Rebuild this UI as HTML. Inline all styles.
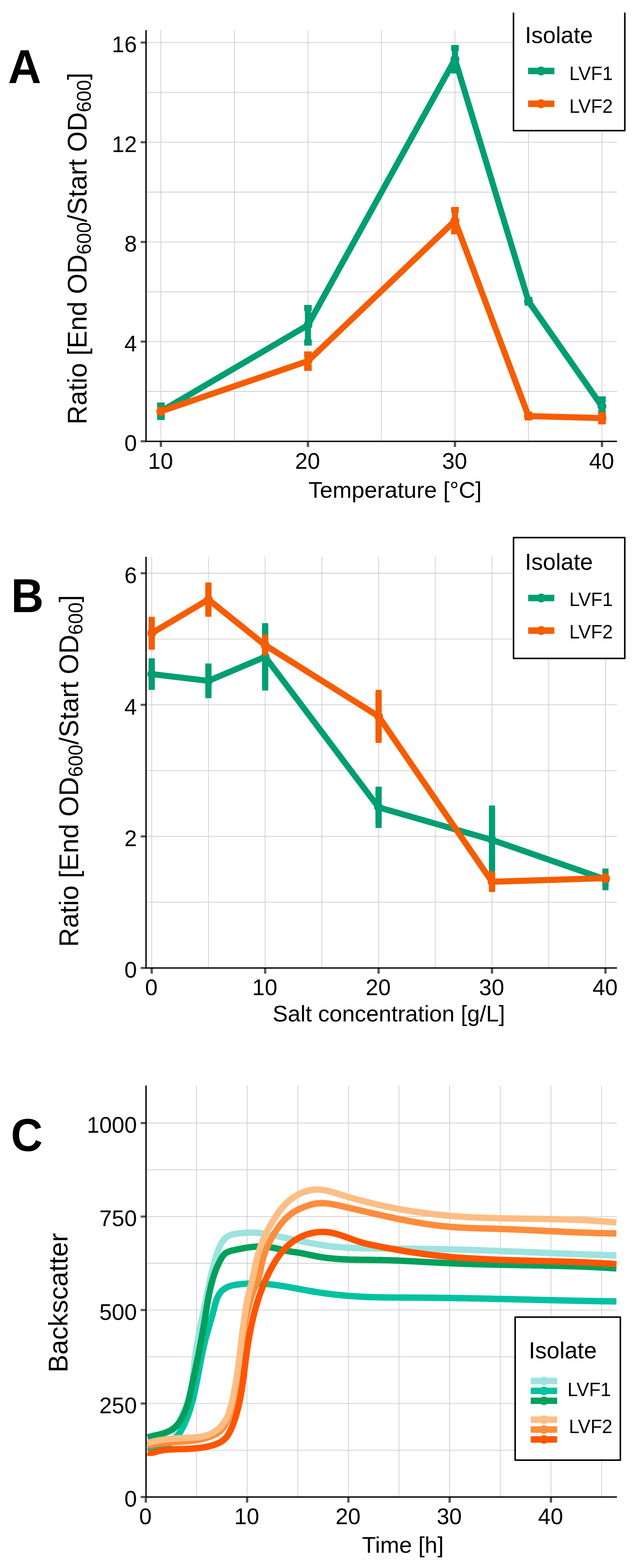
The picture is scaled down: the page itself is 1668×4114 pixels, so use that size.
<!DOCTYPE html>
<html><head><meta charset="utf-8"><title>Figure</title>
<style>html,body{margin:0;padding:0;background:#fff}svg{display:block}</style></head>
<body>
<svg width="1668" height="4114" viewBox="0 0 1668 4114" font-family="'Liberation Sans', Arial, sans-serif" fill="#000">
<rect width="1668" height="4114" fill="#fff"/>
<line x1="422" y1="79" x2="422" y2="1156.2" stroke="#CCCCCC" stroke-width="1.8"/>
<line x1="614.8" y1="79" x2="614.8" y2="1156.2" stroke="#CCCCCC" stroke-width="1.8"/>
<line x1="807.6" y1="79" x2="807.6" y2="1156.2" stroke="#CCCCCC" stroke-width="1.8"/>
<line x1="1000.4" y1="79" x2="1000.4" y2="1156.2" stroke="#CCCCCC" stroke-width="1.8"/>
<line x1="1193.2" y1="79" x2="1193.2" y2="1156.2" stroke="#CCCCCC" stroke-width="1.8"/>
<line x1="1386" y1="79" x2="1386" y2="1156.2" stroke="#CCCCCC" stroke-width="1.8"/>
<line x1="1578.8" y1="79" x2="1578.8" y2="1156.2" stroke="#CCCCCC" stroke-width="1.8"/>
<line x1="384.8" y1="1027" x2="1618" y2="1027" stroke="#CCCCCC" stroke-width="1.8"/>
<line x1="384.8" y1="896.3" x2="1618" y2="896.3" stroke="#CCCCCC" stroke-width="1.8"/>
<line x1="384.8" y1="765.5" x2="1618" y2="765.5" stroke="#CCCCCC" stroke-width="1.8"/>
<line x1="384.8" y1="634.8" x2="1618" y2="634.8" stroke="#CCCCCC" stroke-width="1.8"/>
<line x1="384.8" y1="504" x2="1618" y2="504" stroke="#CCCCCC" stroke-width="1.8"/>
<line x1="384.8" y1="373.2" x2="1618" y2="373.2" stroke="#CCCCCC" stroke-width="1.8"/>
<line x1="384.8" y1="242.5" x2="1618" y2="242.5" stroke="#CCCCCC" stroke-width="1.8"/>
<line x1="384.8" y1="111.7" x2="1618" y2="111.7" stroke="#CCCCCC" stroke-width="1.8"/>
<path d="M412 1064 H432 M422 1064 V1094 M412 1094 H432" fill="none" stroke="#009E73" stroke-width="16" stroke-linecap="butt"/>
<path d="M797.6 808 H817.6 M807.6 808 V898.8 M797.6 898.8 H817.6" fill="none" stroke="#009E73" stroke-width="16" stroke-linecap="butt"/>
<path d="M1183.2 126 H1203.2 M1193.2 126 V185 M1183.2 185 H1203.2" fill="none" stroke="#009E73" stroke-width="16" stroke-linecap="butt"/>
<path d="M1376 787 H1396 M1386 787 V794 M1376 794 H1396" fill="none" stroke="#009E73" stroke-width="16" stroke-linecap="butt"/>
<path d="M1568.8 1048 H1588.8 M1578.8 1048 V1084 M1568.8 1084 H1588.8" fill="none" stroke="#009E73" stroke-width="16" stroke-linecap="butt"/>
<polyline points="422,1079.3 807.6,853.1 1193.2,155.5 1386,790.4 1578.8,1066.3" fill="none" stroke="#009E73" stroke-width="16" stroke-linejoin="round" stroke-linecap="butt"/>
<circle cx="422" cy="1079.3" r="11.7" fill="#009E73"/>
<circle cx="807.6" cy="853.1" r="11.7" fill="#009E73"/>
<circle cx="1193.2" cy="155.5" r="11.7" fill="#009E73"/>
<circle cx="1386" cy="790.4" r="11.7" fill="#009E73"/>
<circle cx="1578.8" cy="1066.3" r="11.7" fill="#009E73"/>
<path d="M412 1075 H432 M422 1075 V1081 M412 1081 H432" fill="none" stroke="#F55D00" stroke-width="16" stroke-linecap="butt"/>
<path d="M797.6 930 H817.6 M807.6 930 V964.9 M797.6 964.9 H817.6" fill="none" stroke="#F55D00" stroke-width="16" stroke-linecap="butt"/>
<path d="M1183.2 551 H1203.2 M1193.2 551 V607 M1183.2 607 H1203.2" fill="none" stroke="#F55D00" stroke-width="16" stroke-linecap="butt"/>
<path d="M1376 1088 H1396 M1386 1088 V1095 M1376 1095 H1396" fill="none" stroke="#F55D00" stroke-width="16" stroke-linecap="butt"/>
<path d="M1568.8 1089 H1588.8 M1578.8 1089 V1105.4 M1568.8 1105.4 H1588.8" fill="none" stroke="#F55D00" stroke-width="16" stroke-linecap="butt"/>
<polyline points="422,1079.3 807.6,947.3 1193.2,579.2 1386,1091.8 1578.8,1097" fill="none" stroke="#F55D00" stroke-width="16" stroke-linejoin="round" stroke-linecap="butt"/>
<circle cx="422" cy="1079.3" r="11.7" fill="#F55D00"/>
<circle cx="807.6" cy="947.3" r="11.7" fill="#F55D00"/>
<circle cx="1193.2" cy="579.2" r="11.7" fill="#F55D00"/>
<circle cx="1386" cy="1091.8" r="11.7" fill="#F55D00"/>
<circle cx="1578.8" cy="1097" r="11.7" fill="#F55D00"/>
<line x1="369" y1="1157.8" x2="383" y2="1157.8" stroke="#575757" stroke-width="5.5"/>
<line x1="369" y1="896.3" x2="383" y2="896.3" stroke="#575757" stroke-width="5.5"/>
<line x1="369" y1="634.8" x2="383" y2="634.8" stroke="#575757" stroke-width="5.5"/>
<line x1="369" y1="373.2" x2="383" y2="373.2" stroke="#575757" stroke-width="5.5"/>
<line x1="369" y1="111.7" x2="383" y2="111.7" stroke="#575757" stroke-width="5.5"/>
<line x1="422" y1="1158" x2="422" y2="1172.8" stroke="#575757" stroke-width="6"/>
<line x1="807.6" y1="1158" x2="807.6" y2="1172.8" stroke="#575757" stroke-width="6"/>
<line x1="1193.2" y1="1158" x2="1193.2" y2="1172.8" stroke="#575757" stroke-width="6"/>
<line x1="1578.8" y1="1158" x2="1578.8" y2="1172.8" stroke="#575757" stroke-width="6"/>
<path d="M383 79 V1158 H1618" fill="none" stroke="#000" stroke-width="3.6" stroke-linejoin="miter" stroke-linecap="butt"/>
<text x="359" y="1183.3" font-size="59" text-anchor="end" font-weight="normal" >0</text>
<text x="359" y="921.8" font-size="59" text-anchor="end" font-weight="normal" >4</text>
<text x="359" y="660.3" font-size="59" text-anchor="end" font-weight="normal" >8</text>
<text x="359" y="398.7" font-size="59" text-anchor="end" font-weight="normal" >12</text>
<text x="359" y="137.2" font-size="59" text-anchor="end" font-weight="normal" >16</text>
<text x="421" y="1229.5" font-size="59" text-anchor="middle" font-weight="normal" >10</text>
<text x="806.6" y="1229.5" font-size="59" text-anchor="middle" font-weight="normal" >20</text>
<text x="1192.2" y="1229.5" font-size="59" text-anchor="middle" font-weight="normal" >30</text>
<text x="1577.8" y="1229.5" font-size="59" text-anchor="middle" font-weight="normal" >40</text>
<text x="809" y="1305.5" font-size="60" text-anchor="start" font-weight="normal" >Temperature [°C]</text>
<text transform="translate(227,1113.8) rotate(-90) scale(0.9885,1)" x="0" y="0" font-size="70">Ratio [End OD<tspan font-size="51.5" dy="11.2">600</tspan><tspan dy="-11.2">/Start OD</tspan><tspan font-size="51.5" dy="11.2">600</tspan><tspan dy="-11.2">]</tspan></text>
<text transform="translate(21,217.8) scale(0.973,1)" font-size="124" font-weight="bold">A</text>
<rect x="1346.7" y="0" width="292" height="342.7" fill="#fff"/>
<path d="M1346.7 33 V342.7 H1638.7 V33" fill="none" stroke="#000" stroke-width="4" stroke-linejoin="round"/>
<text x="1376.7" y="113.3" font-size="60.5" text-anchor="start" font-weight="normal" >Isolate</text>
<line x1="1385" y1="186.3" x2="1454" y2="186.3" stroke="#009E73" stroke-width="17"/>
<circle cx="1419" cy="186.3" r="11.7" fill="#009E73"/>
<text x="1493" y="209.5" font-size="49.3" text-anchor="start" font-weight="normal" >LVF1</text>
<line x1="1385" y1="272.3" x2="1454" y2="272.3" stroke="#F55D00" stroke-width="17"/>
<circle cx="1419" cy="272.3" r="11.7" fill="#F55D00"/>
<text x="1493" y="295.5" font-size="49.3" text-anchor="start" font-weight="normal" >LVF2</text>
<line x1="397.9" y1="1461" x2="397.9" y2="2537.9" stroke="#CCCCCC" stroke-width="1.8"/>
<line x1="546.6" y1="1461" x2="546.6" y2="2537.9" stroke="#CCCCCC" stroke-width="1.8"/>
<line x1="695.4" y1="1461" x2="695.4" y2="2537.9" stroke="#CCCCCC" stroke-width="1.8"/>
<line x1="844.1" y1="1461" x2="844.1" y2="2537.9" stroke="#CCCCCC" stroke-width="1.8"/>
<line x1="992.9" y1="1461" x2="992.9" y2="2537.9" stroke="#CCCCCC" stroke-width="1.8"/>
<line x1="1141.7" y1="1461" x2="1141.7" y2="2537.9" stroke="#CCCCCC" stroke-width="1.8"/>
<line x1="1290.4" y1="1461" x2="1290.4" y2="2537.9" stroke="#CCCCCC" stroke-width="1.8"/>
<line x1="1439.2" y1="1461" x2="1439.2" y2="2537.9" stroke="#CCCCCC" stroke-width="1.8"/>
<line x1="1587.9" y1="1461" x2="1587.9" y2="2537.9" stroke="#CCCCCC" stroke-width="1.8"/>
<line x1="384.8" y1="2367.1" x2="1618" y2="2367.1" stroke="#CCCCCC" stroke-width="1.8"/>
<line x1="384.8" y1="2194.5" x2="1618" y2="2194.5" stroke="#CCCCCC" stroke-width="1.8"/>
<line x1="384.8" y1="2021.8" x2="1618" y2="2021.8" stroke="#CCCCCC" stroke-width="1.8"/>
<line x1="384.8" y1="1849.2" x2="1618" y2="1849.2" stroke="#CCCCCC" stroke-width="1.8"/>
<line x1="384.8" y1="1676.6" x2="1618" y2="1676.6" stroke="#CCCCCC" stroke-width="1.8"/>
<line x1="384.8" y1="1504" x2="1618" y2="1504" stroke="#CCCCCC" stroke-width="1.8"/>
<path d="M389.9 1735.2 H405.9 M397.9 1735.2 V1802 M389.9 1802 H405.9" fill="none" stroke="#009E73" stroke-width="16.5" stroke-linecap="butt"/>
<path d="M538.6 1749 H554.6 M546.6 1749 V1823.8 M538.6 1823.8 H554.6" fill="none" stroke="#009E73" stroke-width="16.5" stroke-linecap="butt"/>
<path d="M687.4 1643.3 H703.4 M695.4 1643.3 V1803.5 M687.4 1803.5 H703.4" fill="none" stroke="#009E73" stroke-width="16.5" stroke-linecap="butt"/>
<path d="M984.9 2072.3 H1000.9 M992.9 2072.3 V2164.3 M984.9 2164.3 H1000.9" fill="none" stroke="#009E73" stroke-width="16.5" stroke-linecap="butt"/>
<path d="M1282.4 2121.8 H1298.4 M1290.4 2121.8 V2285.6 M1282.4 2285.6 H1298.4" fill="none" stroke="#009E73" stroke-width="16.5" stroke-linecap="butt"/>
<path d="M1579.9 2287.1 H1595.9 M1587.9 2287.1 V2327.5 M1579.9 2327.5 H1595.9" fill="none" stroke="#009E73" stroke-width="16.5" stroke-linecap="butt"/>
<polyline points="397.9,1768.6 546.6,1786.4 695.4,1723.4 992.9,2118.3 1290.4,2203.8 1587.9,2307.4" fill="none" stroke="#009E73" stroke-width="16" stroke-linejoin="round" stroke-linecap="butt"/>
<circle cx="397.9" cy="1768.6" r="11.7" fill="#009E73"/>
<circle cx="546.6" cy="1786.4" r="11.7" fill="#009E73"/>
<circle cx="695.4" cy="1723.4" r="11.7" fill="#009E73"/>
<circle cx="992.9" cy="2118.3" r="11.7" fill="#009E73"/>
<circle cx="1290.4" cy="2203.8" r="11.7" fill="#009E73"/>
<circle cx="1587.9" cy="2307.4" r="11.7" fill="#009E73"/>
<path d="M389.9 1626.4 H405.9 M397.9 1626.4 V1696.6 M389.9 1696.6 H405.9" fill="none" stroke="#F55D00" stroke-width="16.5" stroke-linecap="butt"/>
<path d="M538.6 1536.4 H554.6 M546.6 1536.4 V1610 M538.6 1610 H554.6" fill="none" stroke="#F55D00" stroke-width="16.5" stroke-linecap="butt"/>
<path d="M687.4 1673.2 H703.4 M695.4 1673.2 V1712 M687.4 1712 H703.4" fill="none" stroke="#F55D00" stroke-width="16.5" stroke-linecap="butt"/>
<path d="M984.9 1818.2 H1000.9 M992.9 1818.2 V1941 M984.9 1941 H1000.9" fill="none" stroke="#F55D00" stroke-width="16.5" stroke-linecap="butt"/>
<path d="M1282.4 2294.7 H1298.4 M1290.4 2294.7 V2332.3 M1282.4 2332.3 H1298.4" fill="none" stroke="#F55D00" stroke-width="16.5" stroke-linecap="butt"/>
<path d="M1579.9 2299 H1595.9 M1587.9 2299 V2308.6 M1579.9 2308.6 H1595.9" fill="none" stroke="#F55D00" stroke-width="16.5" stroke-linecap="butt"/>
<polyline points="397.9,1661.4 546.6,1573 695.4,1692.7 992.9,1879.6 1290.4,2313.6 1587.9,2303.9" fill="none" stroke="#F55D00" stroke-width="16" stroke-linejoin="round" stroke-linecap="butt"/>
<circle cx="397.9" cy="1661.4" r="11.7" fill="#F55D00"/>
<circle cx="546.6" cy="1573" r="11.7" fill="#F55D00"/>
<circle cx="695.4" cy="1692.7" r="11.7" fill="#F55D00"/>
<circle cx="992.9" cy="1879.6" r="11.7" fill="#F55D00"/>
<circle cx="1290.4" cy="2313.6" r="11.7" fill="#F55D00"/>
<circle cx="1587.9" cy="2303.9" r="11.7" fill="#F55D00"/>
<line x1="369" y1="2539.7" x2="383" y2="2539.7" stroke="#575757" stroke-width="5.5"/>
<line x1="369" y1="2194.5" x2="383" y2="2194.5" stroke="#575757" stroke-width="5.5"/>
<line x1="369" y1="1849.2" x2="383" y2="1849.2" stroke="#575757" stroke-width="5.5"/>
<line x1="369" y1="1504" x2="383" y2="1504" stroke="#575757" stroke-width="5.5"/>
<line x1="397.9" y1="2539.7" x2="397.9" y2="2554.5" stroke="#575757" stroke-width="6"/>
<line x1="695.4" y1="2539.7" x2="695.4" y2="2554.5" stroke="#575757" stroke-width="6"/>
<line x1="992.9" y1="2539.7" x2="992.9" y2="2554.5" stroke="#575757" stroke-width="6"/>
<line x1="1290.4" y1="2539.7" x2="1290.4" y2="2554.5" stroke="#575757" stroke-width="6"/>
<line x1="1587.9" y1="2539.7" x2="1587.9" y2="2554.5" stroke="#575757" stroke-width="6"/>
<path d="M383 1461 V2539.7 H1618" fill="none" stroke="#000" stroke-width="3.6" stroke-linejoin="miter" stroke-linecap="butt"/>
<text x="359" y="2565.2" font-size="59" text-anchor="end" font-weight="normal" >0</text>
<text x="359" y="2220" font-size="59" text-anchor="end" font-weight="normal" >2</text>
<text x="359" y="1874.7" font-size="59" text-anchor="end" font-weight="normal" >4</text>
<text x="359" y="1529.5" font-size="59" text-anchor="end" font-weight="normal" >6</text>
<text x="396.9" y="2611.2" font-size="59" text-anchor="middle" font-weight="normal" >0</text>
<text x="694.4" y="2611.2" font-size="59" text-anchor="middle" font-weight="normal" >10</text>
<text x="991.9" y="2611.2" font-size="59" text-anchor="middle" font-weight="normal" >20</text>
<text x="1289.4" y="2611.2" font-size="59" text-anchor="middle" font-weight="normal" >30</text>
<text x="1586.9" y="2611.2" font-size="59" text-anchor="middle" font-weight="normal" >40</text>
<text x="715" y="2680" font-size="59.6" text-anchor="start" font-weight="normal" >Salt concentration [g/L]</text>
<text transform="translate(205,2484.6) rotate(-90) scale(0.9885,1)" x="0" y="0" font-size="70">Ratio [End OD<tspan font-size="51.5" dy="11.2">600</tspan><tspan dy="-11.2">/Start OD</tspan><tspan font-size="51.5" dy="11.2">600</tspan><tspan dy="-11.2">]</tspan></text>
<text transform="translate(29,1605.9) scale(0.955,1)" font-size="124" font-weight="bold">B</text>
<rect x="1346.8" y="1410.5" width="291.8" height="317" fill="#fff" stroke="#000" stroke-width="4" stroke-linejoin="round"/>
<text x="1376.7" y="1495.1" font-size="60.5" text-anchor="start" font-weight="normal" >Isolate</text>
<line x1="1385.2" y1="1569" x2="1453.8" y2="1569" stroke="#009E73" stroke-width="17"/>
<circle cx="1419.5" cy="1569" r="11.7" fill="#009E73"/>
<text x="1493" y="1589.8" font-size="49.3" text-anchor="start" font-weight="normal" >LVF1</text>
<line x1="1385.2" y1="1654.5" x2="1453.8" y2="1654.5" stroke="#F55D00" stroke-width="17"/>
<circle cx="1419.5" cy="1654.5" r="11.7" fill="#F55D00"/>
<text x="1493" y="1675.3" font-size="49.3" text-anchor="start" font-weight="normal" >LVF2</text>
<line x1="515.3" y1="2848.2" x2="515.3" y2="3925.9" stroke="#CCCCCC" stroke-width="1.8"/>
<line x1="648.1" y1="2848.2" x2="648.1" y2="3925.9" stroke="#CCCCCC" stroke-width="1.8"/>
<line x1="780.9" y1="2848.2" x2="780.9" y2="3925.9" stroke="#CCCCCC" stroke-width="1.8"/>
<line x1="913.7" y1="2848.2" x2="913.7" y2="3925.9" stroke="#CCCCCC" stroke-width="1.8"/>
<line x1="1046.5" y1="2848.2" x2="1046.5" y2="3925.9" stroke="#CCCCCC" stroke-width="1.8"/>
<line x1="1179.3" y1="2848.2" x2="1179.3" y2="3925.9" stroke="#CCCCCC" stroke-width="1.8"/>
<line x1="1312.1" y1="2848.2" x2="1312.1" y2="3925.9" stroke="#CCCCCC" stroke-width="1.8"/>
<line x1="1444.9" y1="2848.2" x2="1444.9" y2="3925.9" stroke="#CCCCCC" stroke-width="1.8"/>
<line x1="1577.7" y1="2848.2" x2="1577.7" y2="3925.9" stroke="#CCCCCC" stroke-width="1.8"/>
<line x1="384.8" y1="3805.1" x2="1618" y2="3805.1" stroke="#CCCCCC" stroke-width="1.8"/>
<line x1="384.8" y1="3682.4" x2="1618" y2="3682.4" stroke="#CCCCCC" stroke-width="1.8"/>
<line x1="384.8" y1="3559.8" x2="1618" y2="3559.8" stroke="#CCCCCC" stroke-width="1.8"/>
<line x1="384.8" y1="3437.1" x2="1618" y2="3437.1" stroke="#CCCCCC" stroke-width="1.8"/>
<line x1="384.8" y1="3314.5" x2="1618" y2="3314.5" stroke="#CCCCCC" stroke-width="1.8"/>
<line x1="384.8" y1="3191.9" x2="1618" y2="3191.9" stroke="#CCCCCC" stroke-width="1.8"/>
<line x1="384.8" y1="3069.2" x2="1618" y2="3069.2" stroke="#CCCCCC" stroke-width="1.8"/>
<line x1="384.8" y1="2946.6" x2="1618" y2="2946.6" stroke="#CCCCCC" stroke-width="1.8"/>
<path d="M387,3792.9 L389.5,3792.7 L392.2,3792.6 L395,3792.6 L397.9,3792.6 L400.9,3792.7 L404,3792.7 L407.2,3792.8 L410.4,3792.9 L413.7,3792.9 L416.9,3792.9 L420.1,3792.8 L423.4,3792.6 L426.5,3792.3 L429.6,3791.9 L432.6,3791.4 L435.6,3790.7 L438.4,3789.8 L441,3788.7 L443.5,3787.4 L445.9,3786 L448.1,3784.3 L450.1,3782.5 L452,3780.5 L453.7,3778.3 L455.2,3776 L456.7,3773.6 L458,3771 L459.2,3768.3 L460.3,3765.6 L461.3,3762.7 L462.3,3759.8 L463.2,3756.8 L464.1,3753.8 L464.9,3750.8 L465.8,3747.7 L466.6,3744.6 L467.5,3741.5 L468.3,3738.5 L469.2,3735.5 L470.2,3732.5 L471.2,3729.6 L472.3,3726.7 L473.4,3723.9 L474.5,3721.1 L475.7,3718.3 L476.9,3715.5 L478.1,3712.8 L479.3,3710.1 L480.5,3707.4 L481.8,3704.8 L483,3702.1 L484.2,3699.4 L485.5,3696.8 L486.7,3694.1 L487.8,3691.5 L489,3688.8 L490.1,3686.1 L491.1,3683.4 L492.2,3680.7 L493.1,3678 L494.1,3675.2 L495,3672.4 L495.8,3669.6 L496.6,3666.8 L497.4,3664 L498.1,3661.1 L498.8,3658.3 L499.5,3655.4 L500.1,3652.5 L500.7,3649.6 L501.3,3646.7 L501.8,3643.7 L502.3,3640.8 L502.8,3637.8 L503.3,3634.9 L503.8,3631.9 L504.2,3628.9 L504.6,3625.9 L505,3622.9 L505.4,3619.9 L505.7,3616.9 L506.1,3613.9 L506.4,3610.8 L506.7,3607.8 L507.1,3604.8 L507.4,3601.7 L507.7,3598.7 L508,3595.6 L508.3,3592.6 L508.6,3589.5 L508.9,3586.5 L509.2,3583.4 L509.5,3580.4 L509.8,3577.3 L510.1,3574.3 L510.4,3571.2 L510.8,3568.2 L511.1,3565.2 L511.4,3562.1 L511.8,3559.1 L512.2,3556.1 L512.6,3553 L513,3550 L513.4,3547 L513.9,3544 L514.3,3541 L514.8,3538 L515.2,3535 L515.7,3532 L516.2,3529.1 L516.7,3526.1 L517.2,3523.1 L517.7,3520.1 L518.3,3517.2 L518.8,3514.2 L519.4,3511.3 L519.9,3508.3 L520.5,3505.3 L521,3502.4 L521.6,3499.4 L522.2,3496.5 L522.8,3493.6 L523.4,3490.6 L523.9,3487.7 L524.5,3484.7 L525.1,3481.8 L525.7,3478.9 L526.3,3475.9 L527,3473 L527.6,3470.1 L528.2,3467.2 L528.8,3464.2 L529.4,3461.3 L530,3458.4 L530.6,3455.5 L531.2,3452.6 L531.8,3449.6 L532.4,3446.7 L533,3443.8 L533.6,3440.9 L534.2,3438 L534.8,3435 L535.4,3432.1 L536,3429.2 L536.6,3426.3 L537.2,3423.4 L537.8,3420.4 L538.4,3417.5 L538.9,3414.6 L539.5,3411.7 L540.1,3408.8 L540.7,3405.9 L541.3,3402.9 L541.9,3400 L542.5,3397.1 L543.1,3394.2 L543.7,3391.3 L544.3,3388.3 L544.9,3385.4 L545.5,3382.5 L546.1,3379.6 L546.7,3376.7 L547.3,3373.7 L547.9,3370.8 L548.6,3367.9 L549.2,3365 L549.9,3362 L550.5,3359.1 L551.2,3356.2 L551.8,3353.3 L552.5,3350.4 L553.2,3347.4 L553.9,3344.5 L554.6,3341.6 L555.3,3338.7 L556,3335.7 L556.8,3332.8 L557.5,3329.9 L558.3,3327 L559,3324 L559.8,3321.1 L560.6,3318.2 L561.4,3315.3 L562.2,3312.3 L563.1,3309.4 L563.9,3306.5 L564.8,3303.5 L565.7,3300.6 L566.6,3297.7 L567.5,3294.7 L568.4,3291.8 L569.3,3288.9 L570.3,3286 L571.3,3283 L572.3,3280.2 L573.4,3277.3 L574.5,3274.5 L575.6,3271.7 L576.9,3269 L578.2,3266.3 L579.5,3263.7 L580.9,3261.2 L582.4,3258.8 L584,3256.4 L585.7,3254.2 L587.5,3252.1 L589.4,3250 L591.5,3248.1 L593.6,3246.4 L595.9,3244.8 L598.2,3243.3 L600.8,3242 L603.4,3240.8 L606.2,3239.9 L609.2,3239 L612.2,3238.3 L615.3,3237.7 L618.4,3237.1 L621.6,3236.7 L624.8,3236.3 L628,3236 L631.2,3235.7 L634.4,3235.4 L637.5,3235.2 L640.6,3234.9 L643.6,3234.7 L646.6,3234.5 L649.6,3234.3 L652.6,3234.2 L655.6,3234.1 L658.5,3234 L661.5,3234 L664.4,3234.1 L667.3,3234.2 L670.3,3234.4 L673.2,3234.6 L676.2,3234.8 L679.1,3235.1 L682.1,3235.5 L685,3235.9 L687.9,3236.3 L690.9,3236.7 L693.8,3237.2 L696.8,3237.6 L699.7,3238.1 L702.6,3238.7 L705.6,3239.2 L708.5,3239.8 L711.5,3240.3 L714.4,3240.9 L717.3,3241.5 L720.3,3242 L723.2,3242.6 L726.1,3243.2 L729.1,3243.8 L732,3244.4 L734.9,3245 L737.9,3245.6 L740.8,3246.2 L743.7,3246.9 L746.7,3247.5 L749.6,3248.1 L752.5,3248.7 L755.5,3249.3 L758.4,3250 L761.3,3250.6 L764.3,3251.2 L767.2,3251.8 L770.1,3252.5 L773.1,3253.1 L776,3253.7 L779,3254.3 L781.9,3254.9 L784.8,3255.5 L787.8,3256.1 L790.7,3256.7 L793.6,3257.3 L796.6,3257.9 L799.5,3258.5 L802.5,3259.1 L805.4,3259.7 L808.3,3260.3 L811.3,3260.8 L814.2,3261.4 L817.2,3261.9 L820.1,3262.5 L823.1,3263 L826,3263.5 L829,3264.1 L831.9,3264.6 L834.9,3265.1 L837.8,3265.6 L840.8,3266 L843.7,3266.5 L846.7,3267 L849.7,3267.4 L852.6,3267.8 L855.6,3268.3 L858.6,3268.7 L861.5,3269.1 L864.5,3269.4 L867.5,3269.8 L870.4,3270.1 L873.4,3270.5 L876.4,3270.8 L879.4,3271.1 L882.3,3271.4 L885.3,3271.7 L888.3,3271.9 L891.3,3272.2 L894.3,3272.4 L897.3,3272.7 L900.2,3272.9 L903.2,3273.1 L906.2,3273.3 L909.2,3273.5 L912.2,3273.6 L915.2,3273.8 L918.2,3274 L921.2,3274.1 L924.2,3274.2 L927.2,3274.4 L930.2,3274.5 L933.2,3274.6 L936.2,3274.7 L939.2,3274.8 L942.2,3274.9 L945.2,3275 L948.2,3275.1 L951.2,3275.1 L954.2,3275.2 L957.2,3275.3 L960.2,3275.3 L963.2,3275.4 L966.2,3275.4 L969.2,3275.5 L972.2,3275.5 L975.2,3275.5 L978.2,3275.6 L981.2,3275.6 L984.2,3275.6 L987.2,3275.7 L990.2,3275.7 L993.3,3275.7 L996.3,3275.7 L999.3,3275.8 L1002.3,3275.8 L1005.3,3275.8 L1008.3,3275.8 L1011.3,3275.9 L1014.3,3275.9 L1017.3,3275.9 L1020.3,3275.9 L1023.3,3276 L1026.3,3276 L1029.3,3276 L1032.3,3276 L1035.3,3276 L1038.3,3276.1 L1041.3,3276.1 L1044.3,3276.1 L1047.3,3276.1 L1050.3,3276.2 L1053.3,3276.2 L1056.3,3276.2 L1059.3,3276.2 L1062.3,3276.3 L1065.2,3276.3 L1068.2,3276.3 L1071.2,3276.4 L1074.2,3276.4 L1077.2,3276.4 L1080.2,3276.4 L1083.2,3276.5 L1086.2,3276.5 L1089.2,3276.5 L1092.2,3276.6 L1095.2,3276.6 L1098.2,3276.6 L1101.2,3276.7 L1104.2,3276.7 L1107.2,3276.8 L1110.2,3276.8 L1113.2,3276.8 L1116.2,3276.9 L1119.2,3276.9 L1122.2,3277 L1125.2,3277 L1128.1,3277.1 L1131.1,3277.1 L1134.1,3277.2 L1137.1,3277.2 L1140.1,3277.3 L1143.1,3277.3 L1146.1,3277.4 L1149.1,3277.4 L1152.1,3277.5 L1155.1,3277.5 L1158.1,3277.6 L1161.1,3277.7 L1164.1,3277.7 L1167.1,3277.8 L1170.1,3277.9 L1173.1,3277.9 L1176.1,3278 L1179.1,3278.1 L1182.1,3278.1 L1185.1,3278.2 L1188.1,3278.3 L1191,3278.4 L1194,3278.4 L1197,3278.5 L1200,3278.6 L1203,3278.7 L1206,3278.8 L1209,3278.8 L1212,3278.9 L1215,3279 L1218,3279.1 L1221,3279.2 L1224,3279.3 L1227,3279.4 L1230,3279.5 L1233,3279.5 L1236,3279.6 L1239,3279.7 L1242,3279.8 L1245,3279.9 L1248,3280 L1251,3280.1 L1254,3280.2 L1257,3280.3 L1260,3280.4 L1263,3280.5 L1266,3280.6 L1269,3280.7 L1272,3280.8 L1275,3280.9 L1278,3281 L1280.9,3281.2 L1283.9,3281.3 L1286.9,3281.4 L1289.9,3281.5 L1292.9,3281.6 L1295.9,3281.7 L1298.9,3281.8 L1301.9,3281.9 L1304.9,3282 L1307.9,3282.2 L1310.9,3282.3 L1313.9,3282.4 L1316.9,3282.5 L1319.9,3282.6 L1322.9,3282.7 L1325.9,3282.8 L1328.9,3283 L1331.9,3283.1 L1334.9,3283.2 L1337.9,3283.3 L1340.9,3283.4 L1343.9,3283.6 L1346.9,3283.7 L1349.9,3283.8 L1352.9,3283.9 L1355.9,3284 L1358.9,3284.2 L1361.9,3284.3 L1364.9,3284.4 L1367.9,3284.5 L1370.9,3284.6 L1373.9,3284.8 L1376.9,3284.9 L1379.9,3285 L1382.9,3285.1 L1385.9,3285.3 L1388.9,3285.4 L1391.9,3285.5 L1394.9,3285.6 L1397.9,3285.7 L1400.9,3285.9 L1403.9,3286 L1406.9,3286.1 L1409.9,3286.2 L1412.8,3286.4 L1415.8,3286.5 L1418.8,3286.6 L1421.8,3286.7 L1424.8,3286.9 L1427.8,3287 L1430.8,3287.1 L1433.8,3287.2 L1436.8,3287.3 L1439.8,3287.5 L1442.8,3287.6 L1445.8,3287.7 L1448.8,3287.8 L1451.8,3288 L1454.8,3288.1 L1457.8,3288.2 L1460.8,3288.3 L1463.8,3288.4 L1466.8,3288.6 L1469.8,3288.7 L1472.8,3288.8 L1475.8,3288.9 L1478.8,3289 L1481.8,3289.2 L1484.8,3289.3 L1487.8,3289.4 L1490.8,3289.5 L1493.8,3289.6 L1496.8,3289.7 L1499.8,3289.9 L1502.8,3290 L1505.8,3290.1 L1508.8,3290.2 L1511.8,3290.3 L1514.8,3290.4 L1517.8,3290.5 L1520.7,3290.6 L1523.7,3290.8 L1526.7,3290.9 L1529.7,3291 L1532.7,3291.1 L1535.7,3291.2 L1538.7,3291.3 L1541.7,3291.4 L1544.7,3291.5 L1547.7,3291.6 L1550.7,3291.7 L1553.7,3291.8 L1556.7,3291.9 L1559.7,3292 L1562.7,3292.1 L1565.7,3292.2 L1568.7,3292.3 L1571.7,3292.4 L1574.7,3292.5 L1577.7,3292.6 L1580.7,3292.7 L1583.7,3292.8 L1586.7,3292.9 L1589.6,3293 L1592.6,3293.1 L1595.6,3293.1 L1598.6,3293.2 L1601.6,3293.3 L1604.6,3293.4 L1607.6,3293.5 L1610.6,3293.6 L1613.6,3293.6 L1616.6,3293.7" fill="none" stroke="#9DE3E0" stroke-width="16.8" stroke-linejoin="round" stroke-linecap="butt"/>
<path d="M386.9,3796.8 L390,3797.2 L393.1,3797.4 L396.2,3797.6 L399.3,3797.7 L402.4,3797.7 L405.4,3797.7 L408.5,3797.5 L411.5,3797.3 L414.5,3796.9 L417.5,3796.5 L420.5,3796 L423.4,3795.4 L426.3,3794.7 L429.1,3793.9 L431.9,3793 L434.7,3792 L437.4,3790.9 L440,3789.7 L442.6,3788.4 L445.1,3787 L447.6,3785.4 L450,3783.8 L452.3,3782.1 L454.5,3780.2 L456.7,3778.2 L458.8,3776.1 L460.8,3774 L462.7,3771.7 L464.6,3769.3 L466.4,3766.9 L468.1,3764.4 L469.8,3761.9 L471.5,3759.3 L473,3756.7 L474.6,3754 L476.1,3751.3 L477.5,3748.6 L478.9,3745.9 L480.3,3743.2 L481.7,3740.4 L483,3737.7 L484.3,3734.9 L485.5,3732.2 L486.7,3729.4 L487.9,3726.7 L489,3723.9 L490.2,3721.1 L491.2,3718.3 L492.3,3715.6 L493.3,3712.8 L494.4,3710 L495.3,3707.1 L496.3,3704.3 L497.2,3701.5 L498.2,3698.7 L499,3695.9 L499.9,3693 L500.8,3690.2 L501.6,3687.3 L502.4,3684.5 L503.2,3681.6 L504,3678.7 L504.7,3675.9 L505.5,3673 L506.2,3670.1 L506.9,3667.2 L507.6,3664.3 L508.3,3661.4 L509,3658.5 L509.7,3655.6 L510.4,3652.7 L511,3649.7 L511.6,3646.8 L512.3,3643.9 L512.9,3641 L513.5,3638 L514.1,3635.1 L514.7,3632.1 L515.3,3629.2 L515.9,3626.3 L516.5,3623.3 L517.1,3620.4 L517.6,3617.4 L518.2,3614.4 L518.8,3611.5 L519.3,3608.5 L519.9,3605.6 L520.5,3602.6 L521,3599.7 L521.6,3596.7 L522.1,3593.7 L522.7,3590.8 L523.2,3587.8 L523.8,3584.8 L524.4,3581.9 L524.9,3578.9 L525.5,3576 L526.1,3573 L526.6,3570.1 L527.2,3567.1 L527.8,3564.2 L528.4,3561.2 L528.9,3558.3 L529.5,3555.3 L530.1,3552.4 L530.7,3549.4 L531.4,3546.5 L532,3543.6 L532.6,3540.7 L533.2,3537.7 L533.9,3534.8 L534.5,3531.9 L535.2,3529 L535.9,3526.1 L536.6,3523.2 L537.3,3520.3 L538,3517.4 L538.7,3514.5 L539.5,3511.7 L540.2,3508.8 L541,3505.9 L541.8,3503.1 L542.6,3500.2 L543.4,3497.4 L544.2,3494.5 L545,3491.7 L545.8,3488.8 L546.7,3486 L547.5,3483.1 L548.3,3480.3 L549.2,3477.4 L550,3474.6 L550.9,3471.7 L551.7,3468.8 L552.6,3465.9 L553.4,3463.1 L554.2,3460.2 L555.1,3457.3 L555.9,3454.3 L556.7,3451.4 L557.5,3448.5 L558.3,3445.5 L559.1,3442.5 L559.9,3439.5 L560.7,3436.5 L561.4,3433.5 L562.2,3430.5 L562.9,3427.4 L563.7,3424.4 L564.5,3421.4 L565.3,3418.4 L566.2,3415.5 L567.1,3412.6 L568.1,3409.7 L569.2,3406.9 L570.3,3404.2 L571.6,3401.5 L572.9,3398.9 L574.3,3396.4 L575.9,3394 L577.5,3391.7 L579.3,3389.5 L581.2,3387.4 L583.3,3385.5 L585.4,3383.6 L587.7,3381.9 L590.1,3380.4 L592.5,3378.9 L595.1,3377.6 L597.7,3376.4 L600.5,3375.3 L603.3,3374.4 L606.1,3373.5 L609,3372.7 L612,3372.1 L615,3371.5 L618,3370.9 L621.1,3370.5 L624.2,3370.1 L627.3,3369.7 L630.4,3369.4 L633.4,3369.1 L636.5,3368.8 L639.5,3368.6 L642.6,3368.4 L645.6,3368.2 L648.6,3368 L651.6,3367.9 L654.6,3367.7 L657.6,3367.6 L660.6,3367.6 L663.5,3367.5 L666.5,3367.5 L669.5,3367.5 L672.4,3367.5 L675.4,3367.6 L678.3,3367.7 L681.3,3367.8 L684.2,3367.9 L687.2,3368 L690.1,3368.2 L693.1,3368.4 L696,3368.6 L699,3368.9 L702,3369.1 L704.9,3369.4 L707.9,3369.7 L710.8,3370 L713.8,3370.4 L716.7,3370.7 L719.7,3371.1 L722.6,3371.5 L725.6,3371.9 L728.5,3372.3 L731.5,3372.7 L734.5,3373.2 L737.4,3373.6 L740.4,3374.1 L743.3,3374.6 L746.3,3375 L749.3,3375.5 L752.2,3376 L755.2,3376.6 L758.1,3377.1 L761.1,3377.6 L764,3378.1 L767,3378.7 L770,3379.2 L772.9,3379.8 L775.9,3380.3 L778.9,3380.9 L781.8,3381.4 L784.8,3382 L787.7,3382.5 L790.7,3383.1 L793.7,3383.6 L796.6,3384.2 L799.6,3384.7 L802.6,3385.3 L805.5,3385.8 L808.5,3386.3 L811.5,3386.9 L814.4,3387.4 L817.4,3387.9 L820.4,3388.4 L823.3,3388.9 L826.3,3389.4 L829.3,3389.9 L832.2,3390.3 L835.2,3390.8 L838.2,3391.3 L841.1,3391.7 L844.1,3392.1 L847.1,3392.6 L850,3393 L853,3393.4 L856,3393.8 L859,3394.2 L861.9,3394.6 L864.9,3394.9 L867.9,3395.3 L870.8,3395.7 L873.8,3396 L876.8,3396.4 L879.8,3396.7 L882.7,3397 L885.7,3397.3 L888.7,3397.6 L891.7,3397.9 L894.7,3398.2 L897.6,3398.5 L900.6,3398.8 L903.6,3399.1 L906.6,3399.3 L909.5,3399.6 L912.5,3399.8 L915.5,3400.1 L918.5,3400.3 L921.5,3400.5 L924.5,3400.7 L927.4,3400.9 L930.4,3401.1 L933.4,3401.3 L936.4,3401.5 L939.4,3401.7 L942.4,3401.9 L945.3,3402 L948.3,3402.2 L951.3,3402.3 L954.3,3402.5 L957.3,3402.6 L960.3,3402.8 L963.3,3402.9 L966.3,3403 L969.3,3403.1 L972.3,3403.2 L975.2,3403.3 L978.2,3403.4 L981.2,3403.5 L984.2,3403.6 L987.2,3403.7 L990.2,3403.7 L993.2,3403.8 L996.2,3403.9 L999.2,3403.9 L1002.2,3404 L1005.2,3404 L1008.2,3404.1 L1011.2,3404.1 L1014.2,3404.2 L1017.2,3404.2 L1020.2,3404.3 L1023.2,3404.3 L1026.2,3404.3 L1029.2,3404.3 L1032.2,3404.4 L1035.2,3404.4 L1038.2,3404.4 L1041.2,3404.4 L1044.2,3404.4 L1047.2,3404.5 L1050.2,3404.5 L1053.2,3404.5 L1056.2,3404.5 L1059.2,3404.5 L1062.2,3404.5 L1065.2,3404.5 L1068.2,3404.5 L1071.2,3404.6 L1074.2,3404.6 L1077.2,3404.6 L1080.2,3404.6 L1083.2,3404.6 L1086.2,3404.6 L1089.2,3404.6 L1092.2,3404.6 L1095.2,3404.7 L1098.2,3404.7 L1101.2,3404.7 L1104.2,3404.7 L1107.2,3404.7 L1110.2,3404.7 L1113.2,3404.8 L1116.2,3404.8 L1119.2,3404.8 L1122.2,3404.8 L1125.2,3404.9 L1128.2,3404.9 L1131.2,3404.9 L1134.2,3405 L1137.2,3405 L1140.2,3405 L1143.2,3405.1 L1146.2,3405.1 L1149.2,3405.1 L1152.2,3405.2 L1155.2,3405.2 L1158.2,3405.2 L1161.1,3405.3 L1164.1,3405.3 L1167.1,3405.4 L1170.1,3405.4 L1173.1,3405.4 L1176.1,3405.5 L1179.1,3405.5 L1182.1,3405.6 L1185.1,3405.6 L1188.1,3405.7 L1191.1,3405.7 L1194.1,3405.8 L1197.1,3405.8 L1200.1,3405.9 L1203.1,3405.9 L1206.1,3406 L1209.1,3406 L1212.1,3406.1 L1215.1,3406.1 L1218.1,3406.2 L1221.1,3406.2 L1224.1,3406.3 L1227.1,3406.3 L1230.1,3406.4 L1233.1,3406.4 L1236.1,3406.5 L1239.1,3406.6 L1242.1,3406.6 L1245.1,3406.7 L1248.1,3406.7 L1251.1,3406.8 L1254.1,3406.9 L1257,3406.9 L1260,3407 L1263,3407 L1266,3407.1 L1269,3407.2 L1272,3407.2 L1275,3407.3 L1278,3407.4 L1281,3407.4 L1284,3407.5 L1287,3407.6 L1290,3407.6 L1293,3407.7 L1296,3407.8 L1299,3407.8 L1302,3407.9 L1305,3408 L1308,3408 L1311,3408.1 L1314,3408.2 L1317,3408.2 L1320,3408.3 L1323,3408.4 L1325.9,3408.4 L1328.9,3408.5 L1331.9,3408.6 L1334.9,3408.7 L1337.9,3408.7 L1340.9,3408.8 L1343.9,3408.9 L1346.9,3408.9 L1349.9,3409 L1352.9,3409.1 L1355.9,3409.2 L1358.9,3409.2 L1361.9,3409.3 L1364.9,3409.4 L1367.9,3409.4 L1370.9,3409.5 L1373.9,3409.6 L1376.9,3409.7 L1379.9,3409.7 L1382.9,3409.8 L1385.9,3409.9 L1388.8,3409.9 L1391.8,3410 L1394.8,3410.1 L1397.8,3410.2 L1400.8,3410.2 L1403.8,3410.3 L1406.8,3410.4 L1409.8,3410.4 L1412.8,3410.5 L1415.8,3410.6 L1418.8,3410.7 L1421.8,3410.7 L1424.8,3410.8 L1427.8,3410.9 L1430.8,3410.9 L1433.8,3411 L1436.8,3411.1 L1439.8,3411.2 L1442.8,3411.2 L1445.8,3411.3 L1448.8,3411.4 L1451.8,3411.4 L1454.8,3411.5 L1457.7,3411.6 L1460.7,3411.6 L1463.7,3411.7 L1466.7,3411.8 L1469.7,3411.8 L1472.7,3411.9 L1475.7,3412 L1478.7,3412 L1481.7,3412.1 L1484.7,3412.2 L1487.7,3412.2 L1490.7,3412.3 L1493.7,3412.4 L1496.7,3412.4 L1499.7,3412.5 L1502.7,3412.6 L1505.7,3412.6 L1508.7,3412.7 L1511.7,3412.7 L1514.7,3412.8 L1517.7,3412.9 L1520.7,3412.9 L1523.7,3413 L1526.7,3413 L1529.7,3413.1 L1532.7,3413.2 L1535.7,3413.2 L1538.7,3413.3 L1541.6,3413.3 L1544.6,3413.4 L1547.6,3413.4 L1550.6,3413.5 L1553.6,3413.6 L1556.6,3413.6 L1559.6,3413.7 L1562.6,3413.7 L1565.6,3413.8 L1568.6,3413.8 L1571.6,3413.9 L1574.6,3413.9 L1577.6,3414 L1580.6,3414 L1583.6,3414 L1586.6,3414.1 L1589.6,3414.1 L1592.6,3414.2 L1595.6,3414.2 L1598.6,3414.3 L1601.6,3414.3 L1604.6,3414.3 L1607.6,3414.4 L1610.6,3414.4 L1613.6,3414.5 L1616.6,3414.5" fill="none" stroke="#00C2A2" stroke-width="16.8" stroke-linejoin="round" stroke-linecap="butt"/>
<path d="M386.9,3771.3 L389.8,3770.5 L392.7,3769.7 L395.7,3768.9 L398.6,3768.2 L401.5,3767.5 L404.5,3766.8 L407.4,3766.1 L410.4,3765.5 L413.3,3764.8 L416.3,3764.1 L419.2,3763.4 L422.1,3762.6 L424.9,3761.8 L427.8,3761 L430.6,3760.1 L433.3,3759.2 L436.1,3758.2 L438.8,3757.1 L441.4,3755.9 L444,3754.7 L446.6,3753.4 L449,3752 L451.5,3750.4 L453.8,3748.8 L456.1,3747 L458.4,3745.1 L460.5,3743.1 L462.6,3741 L464.6,3738.7 L466.6,3736.4 L468.4,3734 L470.3,3731.5 L472,3728.9 L473.7,3726.3 L475.3,3723.7 L476.8,3721 L478.3,3718.2 L479.7,3715.5 L481.1,3712.7 L482.3,3710 L483.6,3707.2 L484.7,3704.4 L485.9,3701.6 L486.9,3698.8 L488,3695.9 L488.9,3693.1 L489.9,3690.3 L490.8,3687.4 L491.6,3684.6 L492.5,3681.7 L493.3,3678.9 L494,3676 L494.8,3673.1 L495.5,3670.2 L496.2,3667.4 L496.9,3664.5 L497.6,3661.6 L498.2,3658.7 L498.9,3655.8 L499.5,3652.9 L500.1,3650 L500.8,3647.1 L501.4,3644.2 L502,3641.3 L502.7,3638.4 L503.3,3635.5 L503.9,3632.6 L504.6,3629.7 L505.2,3626.8 L505.8,3623.9 L506.4,3621 L507.1,3618.1 L507.7,3615.2 L508.3,3612.3 L508.9,3609.3 L509.6,3606.4 L510.2,3603.5 L510.8,3600.6 L511.4,3597.7 L512,3594.8 L512.6,3591.9 L513.2,3588.9 L513.8,3586 L514.4,3583.1 L515,3580.2 L515.6,3577.3 L516.2,3574.3 L516.8,3571.4 L517.4,3568.5 L518,3565.6 L518.6,3562.6 L519.2,3559.7 L519.8,3556.8 L520.4,3553.8 L521,3550.9 L521.5,3548 L522.1,3545 L522.7,3542.1 L523.3,3539.2 L523.8,3536.2 L524.4,3533.3 L524.9,3530.3 L525.5,3527.4 L526.1,3524.4 L526.6,3521.5 L527.2,3518.6 L527.7,3515.6 L528.3,3512.7 L528.8,3509.7 L529.4,3506.7 L529.9,3503.8 L530.4,3500.8 L531,3497.9 L531.5,3494.9 L532,3492 L532.5,3489 L533,3486 L533.6,3483.1 L534.1,3480.1 L534.6,3477.1 L535.1,3474.2 L535.6,3471.2 L536.1,3468.2 L536.6,3465.2 L537.1,3462.3 L537.5,3459.3 L538,3456.3 L538.5,3453.3 L539,3450.3 L539.4,3447.3 L539.9,3444.4 L540.4,3441.4 L540.9,3438.4 L541.4,3435.4 L541.8,3432.4 L542.3,3429.5 L542.8,3426.5 L543.3,3423.5 L543.8,3420.5 L544.3,3417.5 L544.8,3414.6 L545.4,3411.6 L545.9,3408.6 L546.4,3405.7 L547,3402.7 L547.5,3399.8 L548.1,3396.8 L548.7,3393.9 L549.3,3390.9 L549.9,3388 L550.6,3385.1 L551.2,3382.1 L551.9,3379.2 L552.6,3376.3 L553.3,3373.4 L554,3370.5 L554.7,3367.6 L555.5,3364.7 L556.3,3361.8 L557.1,3359 L557.9,3356.1 L558.8,3353.3 L559.7,3350.4 L560.6,3347.6 L561.5,3344.8 L562.5,3342 L563.5,3339.2 L564.5,3336.4 L565.5,3333.6 L566.6,3330.8 L567.7,3328.1 L568.9,3325.3 L570,3322.6 L571.2,3319.9 L572.5,3317.2 L573.8,3314.5 L575.1,3311.8 L576.4,3309.1 L577.8,3306.4 L579.3,3303.8 L580.7,3301.2 L582.3,3298.6 L583.9,3296.2 L585.7,3293.9 L587.6,3291.7 L589.6,3289.7 L591.8,3287.9 L594.2,3286.4 L596.8,3285 L599.5,3283.9 L602.3,3282.9 L605.2,3282 L608.2,3281.2 L611.2,3280.5 L614.3,3279.9 L617.3,3279.2 L620.4,3278.6 L623.4,3278 L626.4,3277.4 L629.4,3276.8 L632.4,3276.2 L635.3,3275.6 L638.3,3275.1 L641.2,3274.5 L644.2,3274 L647.1,3273.5 L650.1,3273.1 L653,3272.7 L655.9,3272.3 L658.9,3271.9 L661.8,3271.6 L664.8,3271.3 L667.7,3271.1 L670.7,3270.9 L673.6,3270.7 L676.6,3270.7 L679.6,3270.6 L682.6,3270.6 L685.6,3270.7 L688.6,3270.8 L691.6,3270.9 L694.6,3271.1 L697.6,3271.4 L700.6,3271.7 L703.6,3272 L706.5,3272.4 L709.5,3272.8 L712.5,3273.2 L715.5,3273.7 L718.4,3274.3 L721.4,3274.8 L724.3,3275.5 L727.3,3276.1 L730.2,3276.8 L733.1,3277.5 L736,3278.2 L738.9,3279 L741.8,3279.7 L744.7,3280.4 L747.6,3281 L750.5,3281.6 L753.4,3282.2 L756.4,3282.7 L759.3,3283.2 L762.2,3283.7 L765.2,3284.1 L768.1,3284.5 L771.1,3285 L774.1,3285.4 L777,3285.8 L780,3286.3 L782.9,3286.8 L785.9,3287.3 L788.8,3287.8 L791.8,3288.3 L794.7,3288.9 L797.7,3289.5 L800.6,3290.1 L803.6,3290.7 L806.5,3291.3 L809.4,3291.9 L812.4,3292.5 L815.3,3293.1 L818.3,3293.7 L821.2,3294.3 L824.2,3294.9 L827.1,3295.5 L830.1,3296.1 L833,3296.6 L835.9,3297.2 L838.9,3297.7 L841.9,3298.2 L844.8,3298.7 L847.8,3299.1 L850.7,3299.5 L853.7,3300 L856.7,3300.3 L859.6,3300.7 L862.6,3301.1 L865.6,3301.4 L868.5,3301.7 L871.5,3302 L874.5,3302.3 L877.5,3302.5 L880.4,3302.8 L883.4,3303 L886.4,3303.2 L889.4,3303.4 L892.4,3303.6 L895.3,3303.8 L898.3,3303.9 L901.3,3304.1 L904.3,3304.2 L907.3,3304.3 L910.3,3304.5 L913.3,3304.6 L916.3,3304.7 L919.3,3304.8 L922.3,3304.8 L925.3,3304.9 L928.2,3305 L931.2,3305 L934.2,3305.1 L937.2,3305.1 L940.2,3305.2 L943.2,3305.2 L946.2,3305.3 L949.2,3305.3 L952.2,3305.3 L955.2,3305.4 L958.2,3305.4 L961.2,3305.4 L964.2,3305.5 L967.2,3305.5 L970.2,3305.5 L973.2,3305.6 L976.2,3305.6 L979.2,3305.6 L982.2,3305.7 L985.2,3305.7 L988.2,3305.8 L991.2,3305.8 L994.2,3305.9 L997.2,3305.9 L1000.2,3306 L1003.2,3306.1 L1006.2,3306.2 L1009.2,3306.3 L1012.2,3306.3 L1015.2,3306.4 L1018.2,3306.5 L1021.2,3306.6 L1024.2,3306.7 L1027.2,3306.8 L1030.2,3306.9 L1033.2,3307.1 L1036.1,3307.2 L1039.1,3307.3 L1042.1,3307.4 L1045.1,3307.5 L1048.1,3307.7 L1051.1,3307.8 L1054.1,3307.9 L1057.1,3308.1 L1060.1,3308.2 L1063.1,3308.3 L1066.1,3308.5 L1069.1,3308.6 L1072,3308.8 L1075,3308.9 L1078,3309.1 L1081,3309.2 L1084,3309.4 L1087,3309.5 L1090,3309.7 L1093,3309.8 L1096,3310 L1099,3310.2 L1101.9,3310.3 L1104.9,3310.5 L1107.9,3310.6 L1110.9,3310.8 L1113.9,3311 L1116.9,3311.1 L1119.9,3311.3 L1122.9,3311.4 L1125.9,3311.6 L1128.8,3311.8 L1131.8,3311.9 L1134.8,3312.1 L1137.8,3312.2 L1140.8,3312.4 L1143.8,3312.5 L1146.8,3312.7 L1149.8,3312.9 L1152.7,3313 L1155.7,3313.2 L1158.7,3313.3 L1161.7,3313.5 L1164.7,3313.6 L1167.7,3313.7 L1170.7,3313.9 L1173.7,3314 L1176.7,3314.2 L1179.7,3314.3 L1182.6,3314.4 L1185.6,3314.6 L1188.6,3314.7 L1191.6,3314.8 L1194.6,3315 L1197.6,3315.1 L1200.6,3315.2 L1203.6,3315.3 L1206.6,3315.4 L1209.6,3315.5 L1212.5,3315.6 L1215.5,3315.8 L1218.5,3315.9 L1221.5,3316 L1224.5,3316.1 L1227.5,3316.2 L1230.5,3316.3 L1233.5,3316.4 L1236.5,3316.5 L1239.5,3316.5 L1242.5,3316.6 L1245.5,3316.7 L1248.5,3316.8 L1251.4,3316.9 L1254.4,3317 L1257.4,3317.1 L1260.4,3317.1 L1263.4,3317.2 L1266.4,3317.3 L1269.4,3317.4 L1272.4,3317.5 L1275.4,3317.5 L1278.4,3317.6 L1281.4,3317.7 L1284.4,3317.7 L1287.4,3317.8 L1290.4,3317.9 L1293.4,3317.9 L1296.3,3318 L1299.3,3318.1 L1302.3,3318.1 L1305.3,3318.2 L1308.3,3318.3 L1311.3,3318.3 L1314.3,3318.4 L1317.3,3318.4 L1320.3,3318.5 L1323.3,3318.5 L1326.3,3318.6 L1329.3,3318.7 L1332.3,3318.7 L1335.3,3318.8 L1338.3,3318.8 L1341.3,3318.9 L1344.3,3318.9 L1347.2,3319 L1350.2,3319 L1353.2,3319.1 L1356.2,3319.1 L1359.2,3319.2 L1362.2,3319.3 L1365.2,3319.3 L1368.2,3319.4 L1371.2,3319.4 L1374.2,3319.5 L1377.2,3319.5 L1380.2,3319.6 L1383.2,3319.6 L1386.2,3319.7 L1389.2,3319.7 L1392.2,3319.8 L1395.2,3319.8 L1398.2,3319.9 L1401.2,3320 L1404.1,3320 L1407.1,3320.1 L1410.1,3320.1 L1413.1,3320.2 L1416.1,3320.2 L1419.1,3320.3 L1422.1,3320.4 L1425.1,3320.4 L1428.1,3320.5 L1431.1,3320.5 L1434.1,3320.6 L1437.1,3320.7 L1440.1,3320.7 L1443.1,3320.8 L1446.1,3320.9 L1449.1,3320.9 L1452.1,3321 L1455.1,3321.1 L1458,3321.2 L1461,3321.2 L1464,3321.3 L1467,3321.4 L1470,3321.5 L1473,3321.5 L1476,3321.6 L1479,3321.7 L1482,3321.8 L1485,3321.9 L1488,3322 L1491,3322 L1494,3322.1 L1497,3322.2 L1500,3322.3 L1502.9,3322.4 L1505.9,3322.5 L1508.9,3322.6 L1511.9,3322.7 L1514.9,3322.8 L1517.9,3322.9 L1520.9,3323 L1523.9,3323.2 L1526.9,3323.3 L1529.9,3323.4 L1532.9,3323.5 L1535.9,3323.6 L1538.9,3323.7 L1541.8,3323.9 L1544.8,3324 L1547.8,3324.1 L1550.8,3324.3 L1553.8,3324.4 L1556.8,3324.5 L1559.8,3324.7 L1562.8,3324.8 L1565.8,3325 L1568.8,3325.1 L1571.8,3325.3 L1574.8,3325.4 L1577.7,3325.6 L1580.7,3325.7 L1583.7,3325.9 L1586.7,3326.1 L1589.7,3326.2 L1592.7,3326.4 L1595.7,3326.6 L1598.7,3326.8 L1601.7,3327 L1604.6,3327.1 L1607.6,3327.3 L1610.6,3327.5 L1613.6,3327.7 L1616.6,3327.9" fill="none" stroke="#00A05C" stroke-width="16.8" stroke-linejoin="round" stroke-linecap="butt"/>
<path d="M387,3792.5 L389.9,3791.8 L392.9,3791.3 L395.8,3790.7 L398.8,3790.2 L401.8,3789.7 L404.7,3789.2 L407.7,3788.8 L410.7,3788.4 L413.6,3788 L416.6,3787.6 L419.6,3787.2 L422.5,3786.9 L425.5,3786.6 L428.5,3786.3 L431.5,3786 L434.4,3785.7 L437.4,3785.5 L440.4,3785.2 L443.4,3785 L446.4,3784.7 L449.3,3784.5 L452.3,3784.3 L455.3,3784.1 L458.3,3783.8 L461.3,3783.6 L464.3,3783.4 L467.2,3783.2 L470.2,3783 L473.2,3782.8 L476.2,3782.5 L479.2,3782.3 L482.1,3782 L485.1,3781.8 L488.1,3781.5 L491.1,3781.2 L494,3780.9 L497,3780.6 L500,3780.3 L502.9,3780 L505.9,3779.6 L508.9,3779.2 L511.8,3778.8 L514.8,3778.3 L517.8,3777.9 L520.7,3777.3 L523.7,3776.8 L526.6,3776.2 L529.6,3775.6 L532.5,3774.9 L535.5,3774.2 L538.4,3773.4 L541.4,3772.5 L544.3,3771.7 L547.3,3770.7 L550.2,3769.7 L553.1,3768.6 L556,3767.5 L558.9,3766.3 L561.7,3765 L564.4,3763.6 L567,3762.1 L569.6,3760.6 L572.1,3758.9 L574.5,3757.2 L576.7,3755.3 L578.9,3753.3 L580.9,3751.3 L582.8,3749.1 L584.6,3746.9 L586.3,3744.5 L587.9,3742.1 L589.5,3739.6 L590.9,3737.1 L592.3,3734.5 L593.6,3731.8 L594.9,3729.1 L596.1,3726.4 L597.2,3723.6 L598.3,3720.8 L599.4,3718 L600.4,3715.1 L601.4,3712.3 L602.3,3709.4 L603.3,3706.5 L604.2,3703.6 L605.1,3700.8 L605.9,3697.9 L606.8,3695 L607.6,3692.1 L608.4,3689.2 L609.2,3686.3 L610,3683.4 L610.8,3680.5 L611.5,3677.6 L612.2,3674.7 L612.9,3671.8 L613.6,3668.8 L614.2,3665.9 L614.9,3663 L615.5,3660.1 L616.1,3657.1 L616.7,3654.2 L617.3,3651.3 L617.9,3648.3 L618.5,3645.4 L619,3642.4 L619.5,3639.5 L620.1,3636.5 L620.6,3633.6 L621.1,3630.6 L621.5,3627.7 L622,3624.7 L622.5,3621.8 L622.9,3618.8 L623.4,3615.8 L623.8,3612.9 L624.2,3609.9 L624.7,3606.9 L625.1,3604 L625.5,3601 L625.9,3598 L626.3,3595 L626.7,3592.1 L627,3589.1 L627.4,3586.1 L627.8,3583.1 L628.2,3580.1 L628.5,3577.2 L628.9,3574.2 L629.2,3571.2 L629.6,3568.2 L629.9,3565.2 L630.3,3562.3 L630.6,3559.3 L631,3556.3 L631.3,3553.3 L631.7,3550.3 L632,3547.3 L632.4,3544.4 L632.7,3541.4 L633.1,3538.4 L633.5,3535.4 L633.8,3532.4 L634.2,3529.4 L634.5,3526.5 L634.9,3523.5 L635.3,3520.5 L635.7,3517.5 L636.1,3514.5 L636.5,3511.6 L636.9,3508.6 L637.3,3505.6 L637.7,3502.6 L638.1,3499.7 L638.5,3496.7 L639,3493.7 L639.4,3490.8 L639.9,3487.8 L640.3,3484.8 L640.8,3481.9 L641.3,3478.9 L641.8,3476 L642.3,3473 L642.8,3470.1 L643.3,3467.1 L643.9,3464.2 L644.4,3461.2 L645,3458.3 L645.6,3455.3 L646.2,3452.4 L646.8,3449.4 L647.4,3446.5 L648.1,3443.6 L648.8,3440.7 L649.4,3437.7 L650.1,3434.8 L650.9,3431.9 L651.6,3429 L652.3,3426.1 L653.1,3423.2 L653.9,3420.3 L654.7,3417.4 L655.5,3414.5 L656.4,3411.6 L657.3,3408.7 L658.2,3405.9 L659.1,3403 L660,3400.2 L661,3397.3 L662,3394.5 L663,3391.7 L664.1,3388.9 L665.1,3386.1 L666.2,3383.3 L667.4,3380.6 L668.5,3377.8 L669.6,3375 L670.8,3372.3 L671.9,3369.5 L673,3366.8 L674.1,3364 L675.2,3361.2 L676.2,3358.4 L677.2,3355.6 L678.1,3352.8 L679,3350 L679.8,3347.1 L680.5,3344.3 L681.2,3341.4 L681.9,3338.5 L682.5,3335.6 L683.1,3332.6 L683.7,3329.7 L684.3,3326.8 L684.9,3323.8 L685.5,3320.9 L686.1,3317.9 L686.7,3315 L687.3,3312.1 L688,3309.2 L688.7,3306.3 L689.5,3303.4 L690.3,3300.5 L691.2,3297.6 L692,3294.8 L693,3291.9 L693.9,3289.1 L694.9,3286.3 L695.9,3283.5 L697,3280.7 L698.1,3277.9 L699.2,3275.1 L700.4,3272.4 L701.6,3269.6 L702.8,3266.9 L704.1,3264.2 L705.4,3261.5 L706.7,3258.8 L708.1,3256.1 L709.5,3253.4 L710.9,3250.8 L712.3,3248.2 L713.8,3245.5 L715.3,3242.9 L716.8,3240.3 L718.4,3237.8 L720,3235.2 L721.6,3232.7 L723.2,3230.1 L724.9,3227.6 L726.5,3225.1 L728.2,3222.7 L730,3220.2 L731.7,3217.8 L733.5,3215.4 L735.4,3213 L737.2,3210.6 L739.1,3208.3 L741,3206 L743,3203.8 L745,3201.6 L747,3199.4 L749.1,3197.3 L751.2,3195.2 L753.4,3193.2 L755.6,3191.2 L757.8,3189.3 L760.1,3187.4 L762.4,3185.6 L764.8,3183.8 L767.2,3182.1 L769.7,3180.5 L772.3,3178.9 L774.8,3177.4 L777.5,3175.9 L780.1,3174.5 L782.9,3173.1 L785.6,3171.8 L788.4,3170.6 L791.2,3169.4 L794,3168.2 L796.9,3167.1 L799.7,3165.9 L802.6,3164.9 L805.5,3163.8 L808.4,3162.8 L811.4,3161.9 L814.3,3161 L817.2,3160.2 L820.2,3159.5 L823.1,3158.8 L826.1,3158.2 L829,3157.8 L832,3157.4 L834.9,3157.1 L837.9,3156.9 L840.8,3156.8 L843.8,3156.7 L846.7,3156.8 L849.7,3156.9 L852.6,3157 L855.5,3157.3 L858.5,3157.6 L861.4,3157.9 L864.3,3158.3 L867.3,3158.7 L870.2,3159.2 L873.1,3159.7 L876.1,3160.3 L879,3160.9 L881.9,3161.5 L884.9,3162.1 L887.8,3162.7 L890.7,3163.4 L893.7,3164 L896.6,3164.7 L899.5,3165.4 L902.5,3166 L905.4,3166.7 L908.3,3167.4 L911.2,3168.1 L914.2,3168.7 L917.1,3169.4 L920,3170.1 L922.9,3170.8 L925.9,3171.4 L928.8,3172.1 L931.7,3172.8 L934.7,3173.5 L937.6,3174.1 L940.5,3174.8 L943.4,3175.5 L946.4,3176.2 L949.3,3176.9 L952.2,3177.5 L955.1,3178.2 L958.1,3178.9 L961,3179.6 L963.9,3180.3 L966.9,3180.9 L969.8,3181.6 L972.7,3182.3 L975.6,3183 L978.6,3183.6 L981.5,3184.3 L984.4,3185 L987.4,3185.6 L990.3,3186.3 L993.2,3187 L996.1,3187.6 L999.1,3188.3 L1002,3188.9 L1004.9,3189.6 L1007.9,3190.2 L1010.8,3190.9 L1013.7,3191.5 L1016.7,3192.2 L1019.6,3192.8 L1022.5,3193.4 L1025.5,3194.1 L1028.4,3194.7 L1031.3,3195.3 L1034.3,3195.9 L1037.2,3196.5 L1040.1,3197.2 L1043.1,3197.8 L1046,3198.4 L1048.9,3199 L1051.9,3199.5 L1054.8,3200.1 L1057.8,3200.7 L1060.7,3201.3 L1063.6,3201.9 L1066.6,3202.4 L1069.5,3203 L1072.5,3203.6 L1075.4,3204.1 L1078.4,3204.7 L1081.3,3205.2 L1084.2,3205.7 L1087.2,3206.3 L1090.1,3206.8 L1093.1,3207.3 L1096,3207.8 L1099,3208.3 L1101.9,3208.8 L1104.9,3209.3 L1107.8,3209.8 L1110.8,3210.2 L1113.8,3210.7 L1116.7,3211.1 L1119.7,3211.6 L1122.6,3212 L1125.6,3212.5 L1128.6,3212.9 L1131.5,3213.3 L1134.5,3213.7 L1137.4,3214.1 L1140.4,3214.5 L1143.4,3214.9 L1146.3,3215.3 L1149.3,3215.6 L1152.3,3216 L1155.3,3216.3 L1158.2,3216.7 L1161.2,3217 L1164.2,3217.3 L1167.2,3217.6 L1170.1,3217.9 L1173.1,3218.2 L1176.1,3218.5 L1179.1,3218.8 L1182.1,3219 L1185.1,3219.3 L1188,3219.5 L1191,3219.7 L1194,3220 L1197,3220.2 L1200,3220.4 L1203,3220.6 L1206,3220.7 L1209,3220.9 L1212,3221.1 L1215,3221.2 L1218,3221.4 L1221,3221.5 L1224,3221.7 L1227,3221.8 L1230,3221.9 L1233,3222 L1236,3222.1 L1239,3222.3 L1242,3222.4 L1245,3222.5 L1248,3222.6 L1251,3222.7 L1254,3222.7 L1257,3222.8 L1260,3222.9 L1263,3223 L1266.1,3223.1 L1269.1,3223.2 L1272.1,3223.2 L1275.1,3223.3 L1278.1,3223.4 L1281.1,3223.5 L1284.1,3223.6 L1287.1,3223.6 L1290.1,3223.7 L1293.1,3223.8 L1296.1,3223.9 L1299.1,3224 L1302.1,3224.1 L1305.1,3224.2 L1308.1,3224.3 L1311.1,3224.4 L1314.1,3224.5 L1317.1,3224.6 L1320.1,3224.7 L1323.1,3224.8 L1326.1,3224.9 L1329.1,3225 L1332.1,3225.1 L1335.1,3225.2 L1338.1,3225.3 L1341.1,3225.5 L1344.1,3225.6 L1347.1,3225.7 L1350.1,3225.8 L1353.1,3225.9 L1356.1,3226.1 L1359.1,3226.2 L1362.1,3226.3 L1365.1,3226.5 L1368,3226.6 L1371,3226.7 L1374,3226.9 L1377,3227 L1380,3227.1 L1383,3227.3 L1386,3227.4 L1389,3227.6 L1392,3227.7 L1395,3227.8 L1398,3228 L1400.9,3228.1 L1403.9,3228.3 L1406.9,3228.4 L1409.9,3228.6 L1412.9,3228.7 L1415.9,3228.9 L1418.9,3229 L1421.9,3229.1 L1424.9,3229.3 L1427.8,3229.4 L1430.8,3229.6 L1433.8,3229.7 L1436.8,3229.9 L1439.8,3230 L1442.8,3230.2 L1445.8,3230.3 L1448.8,3230.5 L1451.8,3230.6 L1454.7,3230.7 L1457.7,3230.9 L1460.7,3231 L1463.7,3231.2 L1466.7,3231.3 L1469.7,3231.5 L1472.7,3231.6 L1475.7,3231.7 L1478.7,3231.9 L1481.6,3232 L1484.6,3232.2 L1487.6,3232.3 L1490.6,3232.4 L1493.6,3232.6 L1496.6,3232.7 L1499.6,3232.8 L1502.6,3232.9 L1505.6,3233.1 L1508.6,3233.2 L1511.6,3233.3 L1514.5,3233.4 L1517.5,3233.6 L1520.5,3233.7 L1523.5,3233.8 L1526.5,3233.9 L1529.5,3234 L1532.5,3234.1 L1535.5,3234.2 L1538.5,3234.3 L1541.5,3234.4 L1544.5,3234.5 L1547.5,3234.6 L1550.5,3234.7 L1553.5,3234.8 L1556.5,3234.9 L1559.5,3235 L1562.5,3235.1 L1565.5,3235.2 L1568.5,3235.3 L1571.5,3235.3 L1574.5,3235.4 L1577.5,3235.5 L1580.5,3235.5 L1583.5,3235.6 L1586.5,3235.7 L1589.5,3235.7 L1592.5,3235.8 L1595.5,3235.8 L1598.5,3235.9 L1601.5,3235.9 L1604.6,3236 L1607.6,3236 L1610.6,3236 L1613.6,3236.1 L1616.6,3236.1" fill="none" stroke="#FD8D3C" stroke-width="16.8" stroke-linejoin="round" stroke-linecap="butt"/>
<path d="M387,3786 L389.9,3785.2 L392.8,3784.3 L395.7,3783.6 L398.7,3782.8 L401.6,3782.2 L404.5,3781.5 L407.5,3780.9 L410.4,3780.3 L413.3,3779.7 L416.3,3779.2 L419.2,3778.7 L422.1,3778.2 L425.1,3777.8 L428,3777.3 L431,3777 L433.9,3776.6 L436.9,3776.2 L439.8,3775.9 L442.8,3775.6 L445.7,3775.3 L448.7,3775 L451.7,3774.8 L454.6,3774.5 L457.6,3774.3 L460.6,3774.1 L463.6,3773.9 L466.6,3773.7 L469.6,3773.5 L472.6,3773.4 L475.6,3773.2 L478.6,3773 L481.6,3772.9 L484.6,3772.7 L487.6,3772.6 L490.6,3772.4 L493.7,3772.3 L496.7,3772.2 L499.8,3772 L502.8,3771.8 L505.8,3771.7 L508.9,3771.5 L511.9,3771.2 L515,3771 L518,3770.7 L521,3770.3 L524,3770 L527,3769.5 L529.9,3769 L532.8,3768.4 L535.7,3767.7 L538.6,3767 L541.5,3766.2 L544.3,3765.3 L547.1,3764.3 L549.8,3763.1 L552.5,3761.9 L555.2,3760.6 L557.8,3759.2 L560.3,3757.7 L562.8,3756.2 L565.3,3754.5 L567.7,3752.8 L570.1,3751 L572.3,3749.1 L574.6,3747.1 L576.7,3745.1 L578.8,3743 L580.8,3740.8 L582.8,3738.6 L584.6,3736.3 L586.4,3733.9 L588.1,3731.5 L589.7,3729 L591.3,3726.5 L592.7,3723.9 L594.1,3721.3 L595.4,3718.6 L596.6,3715.9 L597.8,3713.2 L598.9,3710.4 L599.9,3707.6 L600.9,3704.8 L601.9,3701.9 L602.8,3699.1 L603.6,3696.2 L604.4,3693.3 L605.2,3690.3 L606,3687.4 L606.8,3684.5 L607.5,3681.5 L608.2,3678.6 L608.9,3675.6 L609.6,3672.7 L610.3,3669.8 L610.9,3666.8 L611.6,3663.9 L612.2,3660.9 L612.8,3658 L613.4,3655 L614,3652.1 L614.6,3649.1 L615.2,3646.2 L615.8,3643.2 L616.3,3640.3 L616.9,3637.3 L617.4,3634.4 L617.9,3631.4 L618.4,3628.4 L618.9,3625.5 L619.4,3622.5 L619.9,3619.6 L620.4,3616.6 L620.8,3613.6 L621.3,3610.7 L621.7,3607.7 L622.2,3604.8 L622.6,3601.8 L623,3598.8 L623.5,3595.9 L623.9,3592.9 L624.3,3589.9 L624.7,3587 L625.1,3584 L625.5,3581 L625.9,3578.1 L626.3,3575.1 L626.6,3572.1 L627,3569.2 L627.4,3566.2 L627.7,3563.2 L628.1,3560.3 L628.5,3557.3 L628.8,3554.3 L629.2,3551.3 L629.5,3548.4 L629.9,3545.4 L630.2,3542.4 L630.6,3539.5 L630.9,3536.5 L631.3,3533.5 L631.6,3530.6 L632,3527.6 L632.3,3524.6 L632.7,3521.6 L633,3518.7 L633.4,3515.7 L633.7,3512.7 L634.1,3509.8 L634.4,3506.8 L634.8,3503.8 L635.2,3500.9 L635.5,3497.9 L635.9,3494.9 L636.3,3492 L636.6,3489 L637,3486 L637.4,3483.1 L637.8,3480.1 L638.2,3477.1 L638.5,3474.2 L639,3471.2 L639.4,3468.2 L639.8,3465.3 L640.2,3462.3 L640.6,3459.3 L641,3456.4 L641.5,3453.4 L641.9,3450.5 L642.4,3447.5 L642.8,3444.5 L643.3,3441.6 L643.8,3438.6 L644.3,3435.7 L644.8,3432.7 L645.3,3429.8 L645.8,3426.8 L646.3,3423.9 L646.9,3420.9 L647.4,3418 L648,3415 L648.5,3412.1 L649.1,3409.1 L649.7,3406.2 L650.4,3403.3 L651,3400.3 L651.6,3397.4 L652.3,3394.5 L653,3391.6 L653.7,3388.7 L654.4,3385.8 L655.1,3382.9 L655.9,3380 L656.6,3377.1 L657.4,3374.2 L658.2,3371.3 L658.9,3368.4 L659.7,3365.5 L660.4,3362.6 L661.2,3359.7 L661.9,3356.8 L662.6,3353.9 L663.3,3351 L664,3348.1 L664.6,3345.2 L665.2,3342.2 L665.8,3339.3 L666.4,3336.3 L666.9,3333.4 L667.5,3330.5 L668.1,3327.5 L668.6,3324.6 L669.2,3321.6 L669.8,3318.7 L670.4,3315.7 L671,3312.8 L671.7,3309.9 L672.3,3307 L673,3304.1 L673.8,3301.2 L674.5,3298.3 L675.3,3295.4 L676.1,3292.6 L676.9,3289.7 L677.8,3286.9 L678.7,3284 L679.6,3281.2 L680.5,3278.4 L681.5,3275.6 L682.5,3272.8 L683.5,3270 L684.5,3267.2 L685.6,3264.4 L686.7,3261.6 L687.8,3258.9 L688.9,3256.1 L690.1,3253.4 L691.3,3250.7 L692.5,3247.9 L693.7,3245.2 L694.9,3242.5 L696.2,3239.8 L697.5,3237.1 L698.8,3234.4 L700.1,3231.7 L701.5,3229.1 L702.8,3226.4 L704.2,3223.8 L705.7,3221.1 L707.1,3218.5 L708.5,3215.9 L710,3213.2 L711.5,3210.6 L713,3208 L714.6,3205.4 L716.1,3202.8 L717.7,3200.3 L719.3,3197.7 L720.9,3195.1 L722.5,3192.6 L724.2,3190.1 L725.9,3187.6 L727.6,3185.1 L729.3,3182.6 L731.1,3180.2 L732.9,3177.8 L734.8,3175.4 L736.6,3173 L738.5,3170.7 L740.4,3168.4 L742.4,3166.1 L744.4,3163.9 L746.5,3161.7 L748.5,3159.5 L750.7,3157.4 L752.8,3155.3 L755,3153.3 L757.3,3151.3 L759.6,3149.3 L761.9,3147.4 L764.3,3145.6 L766.7,3143.8 L769.2,3142.1 L771.7,3140.4 L774.2,3138.7 L776.8,3137.2 L779.5,3135.6 L782.1,3134.2 L784.8,3132.8 L787.6,3131.5 L790.3,3130.2 L793.1,3129 L795.9,3127.9 L798.8,3126.9 L801.6,3126 L804.5,3125.1 L807.4,3124.3 L810.3,3123.6 L813.2,3122.9 L816.1,3122.4 L819,3122 L821.9,3121.6 L824.9,3121.3 L827.8,3121.2 L830.7,3121.1 L833.6,3121.1 L836.5,3121.2 L839.4,3121.4 L842.3,3121.7 L845.3,3122 L848.2,3122.4 L851.1,3122.9 L854,3123.4 L856.9,3124 L859.8,3124.7 L862.7,3125.4 L865.5,3126.1 L868.4,3126.9 L871.3,3127.7 L874.2,3128.5 L877.1,3129.4 L880,3130.2 L882.9,3131.1 L885.8,3132 L888.7,3132.9 L891.6,3133.8 L894.5,3134.8 L897.4,3135.6 L900.3,3136.5 L903.2,3137.4 L906.1,3138.3 L909,3139.2 L911.9,3140 L914.8,3140.9 L917.7,3141.7 L920.6,3142.6 L923.5,3143.4 L926.4,3144.2 L929.3,3145.1 L932.2,3145.9 L935.1,3146.7 L938,3147.5 L940.9,3148.3 L943.9,3149 L946.8,3149.8 L949.7,3150.6 L952.6,3151.3 L955.5,3152.1 L958.4,3152.9 L961.3,3153.6 L964.3,3154.3 L967.2,3155.1 L970.1,3155.8 L973,3156.5 L975.9,3157.2 L978.9,3157.9 L981.8,3158.6 L984.7,3159.3 L987.6,3159.9 L990.6,3160.6 L993.5,3161.3 L996.4,3161.9 L999.3,3162.6 L1002.3,3163.2 L1005.2,3163.9 L1008.1,3164.5 L1011.1,3165.1 L1014,3165.7 L1016.9,3166.4 L1019.9,3167 L1022.8,3167.6 L1025.7,3168.1 L1028.7,3168.7 L1031.6,3169.3 L1034.5,3169.9 L1037.5,3170.4 L1040.4,3171 L1043.4,3171.5 L1046.3,3172.1 L1049.2,3172.6 L1052.2,3173.2 L1055.1,3173.7 L1058.1,3174.2 L1061,3174.7 L1064,3175.2 L1066.9,3175.7 L1069.9,3176.2 L1072.8,3176.7 L1075.8,3177.2 L1078.7,3177.6 L1081.7,3178.1 L1084.6,3178.6 L1087.6,3179 L1090.5,3179.4 L1093.5,3179.9 L1096.4,3180.3 L1099.4,3180.7 L1102.3,3181.2 L1105.3,3181.6 L1108.3,3182 L1111.2,3182.4 L1114.2,3182.8 L1117.1,3183.2 L1120.1,3183.5 L1123.1,3183.9 L1126,3184.3 L1129,3184.7 L1132,3185 L1134.9,3185.4 L1137.9,3185.7 L1140.9,3186 L1143.8,3186.4 L1146.8,3186.7 L1149.8,3187 L1152.7,3187.3 L1155.7,3187.6 L1158.7,3187.9 L1161.7,3188.2 L1164.6,3188.5 L1167.6,3188.8 L1170.6,3189.1 L1173.6,3189.4 L1176.5,3189.6 L1179.5,3189.9 L1182.5,3190.1 L1185.5,3190.4 L1188.4,3190.6 L1191.4,3190.8 L1194.4,3191.1 L1197.4,3191.3 L1200.4,3191.5 L1203.4,3191.7 L1206.3,3191.9 L1209.3,3192.1 L1212.3,3192.3 L1215.3,3192.5 L1218.3,3192.7 L1221.3,3192.9 L1224.3,3193.1 L1227.2,3193.2 L1230.2,3193.4 L1233.2,3193.6 L1236.2,3193.7 L1239.2,3193.9 L1242.2,3194 L1245.2,3194.2 L1248.2,3194.3 L1251.2,3194.4 L1254.2,3194.6 L1257.2,3194.7 L1260.2,3194.8 L1263.1,3194.9 L1266.1,3195 L1269.1,3195.2 L1272.1,3195.3 L1275.1,3195.4 L1278.1,3195.5 L1281.1,3195.6 L1284.1,3195.7 L1287.1,3195.8 L1290.1,3195.8 L1293.1,3195.9 L1296.1,3196 L1299.1,3196.1 L1302.1,3196.2 L1305.1,3196.2 L1308.1,3196.3 L1311.1,3196.4 L1314.1,3196.5 L1317.1,3196.5 L1320.1,3196.6 L1323.1,3196.7 L1326.1,3196.7 L1329.1,3196.8 L1332.1,3196.8 L1335.1,3196.9 L1338.1,3196.9 L1341.1,3197 L1344.1,3197 L1347.1,3197.1 L1350.1,3197.1 L1353.1,3197.2 L1356.1,3197.2 L1359.1,3197.3 L1362.2,3197.3 L1365.2,3197.4 L1368.2,3197.4 L1371.2,3197.5 L1374.2,3197.5 L1377.2,3197.5 L1380.2,3197.6 L1383.2,3197.6 L1386.2,3197.7 L1389.2,3197.7 L1392.2,3197.7 L1395.2,3197.8 L1398.2,3197.8 L1401.2,3197.9 L1404.2,3197.9 L1407.2,3198 L1410.2,3198 L1413.2,3198 L1416.2,3198.1 L1419.2,3198.1 L1422.2,3198.2 L1425.2,3198.2 L1428.2,3198.3 L1431.2,3198.3 L1434.2,3198.4 L1437.2,3198.4 L1440.2,3198.5 L1443.2,3198.6 L1446.2,3198.6 L1449.2,3198.7 L1452.2,3198.7 L1455.2,3198.8 L1458.2,3198.9 L1461.2,3198.9 L1464.2,3199 L1467.2,3199.1 L1470.2,3199.1 L1473.2,3199.2 L1476.2,3199.3 L1479.2,3199.4 L1482.2,3199.5 L1485.2,3199.6 L1488.2,3199.7 L1491.2,3199.7 L1494.2,3199.8 L1497.2,3199.9 L1500.2,3200.1 L1503.2,3200.2 L1506.2,3200.3 L1509.2,3200.4 L1512.2,3200.5 L1515.2,3200.6 L1518.2,3200.7 L1521.2,3200.9 L1524.2,3201 L1527.1,3201.1 L1530.1,3201.3 L1533.1,3201.4 L1536.1,3201.6 L1539.1,3201.7 L1542.1,3201.9 L1545.1,3202.1 L1548.1,3202.2 L1551,3202.4 L1554,3202.6 L1557,3202.8 L1560,3203 L1563,3203.2 L1566,3203.4 L1569,3203.6 L1571.9,3203.8 L1574.9,3204 L1577.9,3204.2 L1580.9,3204.4 L1583.9,3204.7 L1586.8,3204.9 L1589.8,3205.1 L1592.8,3205.4 L1595.8,3205.7 L1598.7,3205.9 L1601.7,3206.2 L1604.7,3206.5 L1607.6,3206.7 L1610.6,3207 L1613.6,3207.3 L1616.6,3207.6" fill="none" stroke="#FDBE85" stroke-width="16.8" stroke-linejoin="round" stroke-linecap="butt"/>
<path d="M387.1,3810.5 L390,3811.4 L392.8,3811.8 L395.7,3811.9 L398.5,3811.6 L401.2,3811.2 L404,3810.6 L406.8,3809.8 L409.6,3809 L412.4,3808.1 L415.3,3807.3 L418.1,3806.6 L421,3805.9 L424,3805.3 L426.9,3804.8 L429.9,3804.4 L432.9,3804 L435.9,3803.7 L438.9,3803.5 L441.9,3803.2 L444.9,3803 L448,3802.9 L451,3802.7 L454,3802.6 L457.1,3802.5 L460.1,3802.4 L463.1,3802.3 L466.1,3802.2 L469.1,3802.2 L472.1,3802.1 L475.1,3802 L478.1,3801.9 L481.1,3801.8 L484,3801.7 L487,3801.6 L490,3801.5 L493,3801.4 L495.9,3801.2 L498.9,3801.1 L501.8,3800.9 L504.8,3800.7 L507.8,3800.5 L510.7,3800.3 L513.7,3800 L516.7,3799.7 L519.6,3799.4 L522.6,3799.1 L525.6,3798.7 L528.5,3798.3 L531.5,3797.9 L534.5,3797.4 L537.5,3796.9 L540.4,3796.3 L543.4,3795.7 L546.4,3795.1 L549.4,3794.4 L552.4,3793.6 L555.4,3792.8 L558.3,3792 L561.3,3791.1 L564.1,3790.1 L567,3789 L569.8,3787.9 L572.5,3786.6 L575.2,3785.3 L577.8,3783.9 L580.4,3782.4 L582.8,3780.8 L585.1,3779.1 L587.4,3777.2 L589.5,3775.3 L591.5,3773.2 L593.5,3771.1 L595.3,3768.8 L597,3766.4 L598.6,3763.9 L600.1,3761.4 L601.6,3758.8 L603,3756.1 L604.3,3753.4 L605.6,3750.6 L606.8,3747.9 L608,3745.1 L609.1,3742.2 L610.2,3739.4 L611.3,3736.6 L612.4,3733.7 L613.4,3730.9 L614.4,3728 L615.4,3725.2 L616.4,3722.3 L617.3,3719.4 L618.2,3716.6 L619.1,3713.7 L619.9,3710.8 L620.8,3707.9 L621.6,3705 L622.4,3702.1 L623.1,3699.2 L623.9,3696.3 L624.6,3693.4 L625.3,3690.5 L626,3687.6 L626.7,3684.7 L627.3,3681.8 L628,3678.8 L628.6,3675.9 L629.2,3673 L629.8,3670 L630.4,3667.1 L630.9,3664.1 L631.5,3661.2 L632,3658.3 L632.5,3655.3 L633,3652.3 L633.5,3649.4 L634,3646.4 L634.5,3643.5 L634.9,3640.5 L635.4,3637.5 L635.8,3634.6 L636.2,3631.6 L636.7,3628.6 L637.1,3625.7 L637.5,3622.7 L637.9,3619.7 L638.3,3616.8 L638.7,3613.8 L639.1,3610.8 L639.5,3607.8 L639.8,3604.8 L640.2,3601.9 L640.6,3598.9 L641,3595.9 L641.3,3592.9 L641.7,3589.9 L642.1,3587 L642.4,3584 L642.8,3581 L643.2,3578 L643.6,3575 L643.9,3572.1 L644.3,3569.1 L644.7,3566.1 L645.1,3563.1 L645.5,3560.2 L645.9,3557.2 L646.3,3554.2 L646.7,3551.2 L647.1,3548.3 L647.5,3545.3 L647.9,3542.3 L648.4,3539.4 L648.8,3536.4 L649.3,3533.4 L649.7,3530.5 L650.2,3527.5 L650.6,3524.6 L651.1,3521.6 L651.6,3518.7 L652.1,3515.7 L652.6,3512.8 L653.1,3509.8 L653.6,3506.9 L654.1,3503.9 L654.7,3501 L655.2,3498 L655.7,3495.1 L656.3,3492.2 L656.9,3489.2 L657.5,3486.3 L658,3483.4 L658.6,3480.5 L659.2,3477.5 L659.9,3474.6 L660.5,3471.7 L661.1,3468.8 L661.8,3465.9 L662.5,3463 L663.1,3460.1 L663.8,3457.2 L664.5,3454.3 L665.2,3451.4 L665.9,3448.5 L666.7,3445.6 L667.4,3442.7 L668.2,3439.8 L669,3436.9 L669.8,3434.1 L670.5,3431.2 L671.4,3428.3 L672.2,3425.5 L673,3422.6 L673.9,3419.7 L674.8,3416.9 L675.6,3414 L676.5,3411.2 L677.4,3408.4 L678.4,3405.5 L679.3,3402.7 L680.3,3399.9 L681.3,3397 L682.2,3394.2 L683.3,3391.4 L684.3,3388.6 L685.3,3385.8 L686.4,3383 L687.4,3380.2 L688.5,3377.4 L689.6,3374.6 L690.8,3371.8 L691.9,3369 L693.1,3366.3 L694.2,3363.5 L695.4,3360.7 L696.6,3358 L697.9,3355.2 L699.1,3352.5 L700.4,3349.7 L701.7,3347 L703,3344.2 L704.3,3341.5 L705.6,3338.8 L707,3336.1 L708.4,3333.4 L709.8,3330.7 L711.2,3328 L712.7,3325.3 L714.2,3322.6 L715.6,3319.9 L717.2,3317.3 L718.7,3314.7 L720.3,3312.1 L721.9,3309.5 L723.5,3306.9 L725.1,3304.4 L726.8,3301.8 L728.5,3299.3 L730.3,3296.9 L732,3294.4 L733.8,3292 L735.6,3289.6 L737.5,3287.2 L739.4,3284.9 L741.3,3282.6 L743.2,3280.4 L745.2,3278.1 L747.3,3276 L749.3,3273.8 L751.4,3271.7 L753.5,3269.6 L755.7,3267.6 L757.9,3265.7 L760.1,3263.7 L762.4,3261.9 L764.7,3260 L767.1,3258.3 L769.5,3256.5 L771.9,3254.9 L774.4,3253.3 L776.9,3251.7 L779.5,3250.2 L782,3248.7 L784.7,3247.3 L787.3,3246 L790,3244.7 L792.7,3243.5 L795.5,3242.3 L798.2,3241.2 L801,3240.2 L803.8,3239.2 L806.7,3238.3 L809.5,3237.4 L812.4,3236.6 L815.3,3235.9 L818.2,3235.2 L821.1,3234.6 L824,3234.1 L827,3233.6 L829.9,3233.2 L832.9,3232.9 L835.9,3232.6 L838.8,3232.4 L841.8,3232.3 L844.8,3232.2 L847.8,3232.2 L850.7,3232.3 L853.7,3232.4 L856.7,3232.6 L859.6,3232.9 L862.6,3233.3 L865.5,3233.7 L868.5,3234.2 L871.4,3234.8 L874.4,3235.4 L877.3,3236.1 L880.2,3236.8 L883.1,3237.6 L886,3238.5 L888.9,3239.3 L891.8,3240.2 L894.7,3241.2 L897.6,3242.2 L900.5,3243.2 L903.3,3244.2 L906.2,3245.2 L909.1,3246.3 L912,3247.3 L914.9,3248.4 L917.7,3249.4 L920.6,3250.5 L923.5,3251.6 L926.3,3252.6 L929.2,3253.6 L932.1,3254.6 L935,3255.6 L937.8,3256.6 L940.7,3257.5 L943.6,3258.4 L946.5,3259.3 L949.4,3260.1 L952.2,3260.9 L955.1,3261.7 L958,3262.4 L960.9,3263.1 L963.8,3263.8 L966.7,3264.5 L969.6,3265.2 L972.5,3265.8 L975.4,3266.4 L978.3,3267 L981.2,3267.6 L984.2,3268.2 L987.1,3268.8 L990,3269.4 L992.9,3270 L995.8,3270.6 L998.8,3271.2 L1001.7,3271.7 L1004.6,3272.3 L1007.5,3272.9 L1010.5,3273.4 L1013.4,3274 L1016.3,3274.6 L1019.3,3275.1 L1022.2,3275.7 L1025.2,3276.2 L1028.1,3276.7 L1031,3277.3 L1034,3277.8 L1036.9,3278.3 L1039.9,3278.9 L1042.8,3279.4 L1045.8,3279.9 L1048.7,3280.4 L1051.7,3280.9 L1054.7,3281.4 L1057.6,3281.9 L1060.6,3282.4 L1063.5,3282.9 L1066.5,3283.4 L1069.5,3283.9 L1072.4,3284.3 L1075.4,3284.8 L1078.3,3285.3 L1081.3,3285.7 L1084.3,3286.2 L1087.2,3286.6 L1090.2,3287 L1093.2,3287.5 L1096.2,3287.9 L1099.1,3288.3 L1102.1,3288.8 L1105.1,3289.2 L1108,3289.6 L1111,3290 L1114,3290.4 L1117,3290.8 L1119.9,3291.1 L1122.9,3291.5 L1125.9,3291.9 L1128.9,3292.2 L1131.8,3292.6 L1134.8,3293 L1137.8,3293.3 L1140.8,3293.6 L1143.8,3294 L1146.7,3294.3 L1149.7,3294.6 L1152.7,3294.9 L1155.7,3295.3 L1158.7,3295.6 L1161.6,3295.9 L1164.6,3296.2 L1167.6,3296.5 L1170.6,3296.7 L1173.6,3297 L1176.6,3297.3 L1179.5,3297.6 L1182.5,3297.8 L1185.5,3298.1 L1188.5,3298.3 L1191.5,3298.6 L1194.5,3298.8 L1197.4,3299.1 L1200.4,3299.3 L1203.4,3299.6 L1206.4,3299.8 L1209.4,3300 L1212.4,3300.2 L1215.4,3300.4 L1218.4,3300.6 L1221.3,3300.9 L1224.3,3301.1 L1227.3,3301.3 L1230.3,3301.4 L1233.3,3301.6 L1236.3,3301.8 L1239.3,3302 L1242.3,3302.2 L1245.3,3302.4 L1248.2,3302.5 L1251.2,3302.7 L1254.2,3302.9 L1257.2,3303 L1260.2,3303.2 L1263.2,3303.4 L1266.2,3303.5 L1269.2,3303.7 L1272.2,3303.8 L1275.2,3303.9 L1278.2,3304.1 L1281.2,3304.2 L1284.1,3304.4 L1287.1,3304.5 L1290.1,3304.6 L1293.1,3304.7 L1296.1,3304.9 L1299.1,3305 L1302.1,3305.1 L1305.1,3305.2 L1308.1,3305.3 L1311.1,3305.5 L1314.1,3305.6 L1317.1,3305.7 L1320.1,3305.8 L1323.1,3305.9 L1326.1,3306 L1329.1,3306.1 L1332.1,3306.2 L1335.1,3306.3 L1338.1,3306.4 L1341,3306.5 L1344,3306.6 L1347,3306.7 L1350,3306.7 L1353,3306.8 L1356,3306.9 L1359,3307 L1362,3307.1 L1365,3307.2 L1368,3307.2 L1371,3307.3 L1374,3307.4 L1377,3307.5 L1380,3307.6 L1383,3307.6 L1386,3307.7 L1389,3307.8 L1392,3307.9 L1395,3308 L1398,3308 L1401,3308.1 L1404,3308.2 L1407,3308.3 L1410,3308.3 L1413,3308.4 L1416,3308.5 L1419,3308.6 L1422,3308.6 L1425,3308.7 L1428,3308.8 L1431,3308.9 L1434,3308.9 L1437,3309 L1440,3309.1 L1442.9,3309.2 L1445.9,3309.2 L1448.9,3309.3 L1451.9,3309.4 L1454.9,3309.5 L1457.9,3309.6 L1460.9,3309.6 L1463.9,3309.7 L1466.9,3309.8 L1469.9,3309.9 L1472.9,3310 L1475.9,3310.1 L1478.9,3310.2 L1481.9,3310.2 L1484.9,3310.3 L1487.9,3310.4 L1490.9,3310.5 L1493.9,3310.6 L1496.9,3310.7 L1499.9,3310.8 L1502.9,3310.9 L1505.9,3311 L1508.9,3311.1 L1511.9,3311.2 L1514.9,3311.3 L1517.9,3311.5 L1520.9,3311.6 L1523.8,3311.7 L1526.8,3311.8 L1529.8,3311.9 L1532.8,3312 L1535.8,3312.2 L1538.8,3312.3 L1541.8,3312.4 L1544.8,3312.6 L1547.8,3312.7 L1550.8,3312.8 L1553.8,3313 L1556.8,3313.1 L1559.8,3313.3 L1562.8,3313.4 L1565.8,3313.6 L1568.8,3313.7 L1571.7,3313.9 L1574.7,3314.1 L1577.7,3314.2 L1580.7,3314.4 L1583.7,3314.6 L1586.7,3314.8 L1589.7,3314.9 L1592.7,3315.1 L1595.7,3315.3 L1598.7,3315.5 L1601.6,3315.7 L1604.6,3315.9 L1607.6,3316.1 L1610.6,3316.3 L1613.6,3316.5 L1616.6,3316.8" fill="none" stroke="#FF5500" stroke-width="16.8" stroke-linejoin="round" stroke-linecap="butt"/>
<line x1="369" y1="3927.7" x2="383" y2="3927.7" stroke="#575757" stroke-width="5.5"/>
<line x1="369" y1="3682.4" x2="383" y2="3682.4" stroke="#575757" stroke-width="5.5"/>
<line x1="369" y1="3437.1" x2="383" y2="3437.1" stroke="#575757" stroke-width="5.5"/>
<line x1="369" y1="3191.9" x2="383" y2="3191.9" stroke="#575757" stroke-width="5.5"/>
<line x1="369" y1="2946.6" x2="383" y2="2946.6" stroke="#575757" stroke-width="5.5"/>
<line x1="382.5" y1="3927.7" x2="382.5" y2="3942.5" stroke="#575757" stroke-width="6"/>
<line x1="648.1" y1="3927.7" x2="648.1" y2="3942.5" stroke="#575757" stroke-width="6"/>
<line x1="913.7" y1="3927.7" x2="913.7" y2="3942.5" stroke="#575757" stroke-width="6"/>
<line x1="1179.3" y1="3927.7" x2="1179.3" y2="3942.5" stroke="#575757" stroke-width="6"/>
<line x1="1444.9" y1="3927.7" x2="1444.9" y2="3942.5" stroke="#575757" stroke-width="6"/>
<path d="M383 2848.2 V3927.7 H1618" fill="none" stroke="#000" stroke-width="3.6" stroke-linejoin="miter" stroke-linecap="butt"/>
<text x="359" y="3953.2" font-size="59" text-anchor="end" font-weight="normal" >0</text>
<text x="359" y="3707.9" font-size="59" text-anchor="end" font-weight="normal" >250</text>
<text x="359" y="3462.6" font-size="59" text-anchor="end" font-weight="normal" >500</text>
<text x="359" y="3217.4" font-size="59" text-anchor="end" font-weight="normal" >750</text>
<text x="359" y="2972.1" font-size="59" text-anchor="end" font-weight="normal" >1000</text>
<text x="381.5" y="3999.2" font-size="59" text-anchor="middle" font-weight="normal" >0</text>
<text x="647.1" y="3999.2" font-size="59" text-anchor="middle" font-weight="normal" >10</text>
<text x="912.7" y="3999.2" font-size="59" text-anchor="middle" font-weight="normal" >20</text>
<text x="1178.3" y="3999.2" font-size="59" text-anchor="middle" font-weight="normal" >30</text>
<text x="1443.9" y="3999.2" font-size="59" text-anchor="middle" font-weight="normal" >40</text>
<text x="949.3" y="4074.2" font-size="60" text-anchor="start" font-weight="normal" >Time [h]</text>
<text transform="translate(177,3601) rotate(-90)" x="0" y="0" font-size="70">Backscatter</text>
<text transform="translate(28.5,3020) scale(0.955,1)" font-size="121" font-weight="bold">C</text>
<rect x="1351" y="3455.8" width="276" height="375.2" fill="#fff" stroke="#000" stroke-width="4" stroke-linejoin="round"/>
<text x="1386.8" y="3564.1" font-size="60.5" text-anchor="start" font-weight="normal" >Isolate</text>
<line x1="1391.9" y1="3623.2" x2="1461.2" y2="3623.2" stroke="#9DE3E0" stroke-width="17"/>
<circle cx="1426.6" cy="3623.2" r="11.3" fill="#9DE3E0"/>
<line x1="1391.9" y1="3649.2" x2="1461.2" y2="3649.2" stroke="#00C2A2" stroke-width="17"/>
<circle cx="1426.6" cy="3649.2" r="11.3" fill="#00C2A2"/>
<line x1="1391.9" y1="3675.3" x2="1461.2" y2="3675.3" stroke="#00A05C" stroke-width="17"/>
<circle cx="1426.6" cy="3675.3" r="11.3" fill="#00A05C"/>
<line x1="1391.9" y1="3724.8" x2="1461.2" y2="3724.8" stroke="#FDBE85" stroke-width="17"/>
<circle cx="1426.6" cy="3724.8" r="11.3" fill="#FDBE85"/>
<line x1="1391.9" y1="3750.8" x2="1461.2" y2="3750.8" stroke="#FD8D3C" stroke-width="17"/>
<circle cx="1426.6" cy="3750.8" r="11.3" fill="#FD8D3C"/>
<line x1="1391.9" y1="3776.8" x2="1461.2" y2="3776.8" stroke="#FF5500" stroke-width="17"/>
<circle cx="1426.6" cy="3776.8" r="11.3" fill="#FF5500"/>
<text x="1488.3" y="3663.1" font-size="49.3" text-anchor="start" font-weight="normal" >LVF1</text>
<text x="1492" y="3759.7" font-size="49.3" text-anchor="start" font-weight="normal" >LVF2</text>
</svg>
</body></html>
